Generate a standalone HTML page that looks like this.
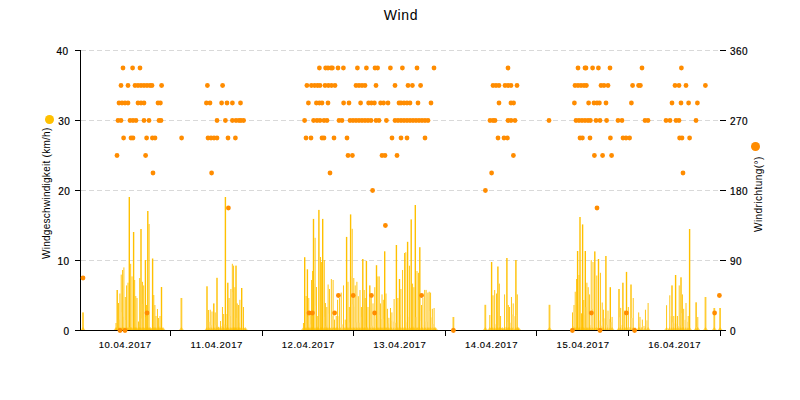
<!DOCTYPE html>
<html><head><meta charset="utf-8">
<style>
html,body{margin:0;padding:0;background:#fff;}
body{width:800px;height:400px;position:relative;overflow:hidden;font-family:"Liberation Sans",sans-serif;color:#000;}
.tl,.tr{-webkit-text-stroke:0.2px #000;}.dx{-webkit-text-stroke:0.12px #000;}
svg{position:absolute;left:0;top:0;}
.title{position:absolute;left:1px;width:800px;top:7px;text-align:center;font-size:14px;line-height:16px;letter-spacing:0.7px;}
.tl{position:absolute;left:0;width:69.5px;text-align:right;font-size:10px;line-height:12px;letter-spacing:0.5px;}
.tr{position:absolute;left:730px;font-size:10px;line-height:12px;letter-spacing:0.5px;}
.dx{position:absolute;top:338.6px;width:80px;text-align:center;font-size:9.5px;line-height:12px;letter-spacing:0.55px;}
.ytl{position:absolute;font-size:10px;line-height:12px;white-space:nowrap;transform-origin:0 0;transform:rotate(-90deg);letter-spacing:0.27px;}
.dot{position:absolute;border-radius:50%;}
</style></head><body>
<svg width="800" height="400" viewBox="0 0 800 400">
<line x1="81" y1="50.5" x2="718" y2="50.5" stroke="#d9d9d9" stroke-width="1" stroke-dasharray="5,3"/>
<line x1="81" y1="120.5" x2="718" y2="120.5" stroke="#d9d9d9" stroke-width="1" stroke-dasharray="5,3"/>
<line x1="81" y1="190.5" x2="718" y2="190.5" stroke="#d9d9d9" stroke-width="1" stroke-dasharray="5,3"/>
<line x1="81" y1="260.5" x2="718" y2="260.5" stroke="#d9d9d9" stroke-width="1" stroke-dasharray="5,3"/>
<rect x="82.10" y="312.4" width="1.8" height="17.6" fill="#FFC000" fill-opacity="0.8"/>
<path d="M80.60,330 L83.00,327 L85.40,330Z" fill="#FFC000" fill-opacity="0.6"/>
<rect x="115.55" y="323.0" width="0.9" height="7.0" fill="#FFC000" fill-opacity="1"/>
<path d="M113.60,330 L116.00,327 L118.40,330Z" fill="#FFC000" fill-opacity="0.6"/>
<rect x="116.45" y="328.6" width="0.30" height="1.4" fill="#FFE39A"/>
<rect x="116.50" y="290.0" width="1.4" height="40.0" fill="#FFC000" fill-opacity="1"/>
<path d="M114.80,330 L117.20,327 L119.60,330Z" fill="#FFC000" fill-opacity="0.6"/>
<rect x="117.65" y="327.6" width="0.40" height="2.4" fill="#FFE39A"/>
<rect x="118.05" y="303.0" width="0.9" height="27.0" fill="#FFC000" fill-opacity="1"/>
<path d="M116.10,330 L118.50,327 L120.90,330Z" fill="#FFC000" fill-opacity="0.6"/>
<rect x="118.95" y="319.5" width="0.50" height="10.5" fill="#FFE39A"/>
<rect x="119.45" y="293.5" width="0.9" height="36.5" fill="#FFC000" fill-opacity="1"/>
<path d="M117.50,330 L119.90,327 L122.30,330Z" fill="#FFC000" fill-opacity="0.6"/>
<rect x="120.35" y="328.4" width="0.40" height="1.6" fill="#FFE39A"/>
<rect x="120.75" y="274.6" width="0.9" height="55.4" fill="#FFC000" fill-opacity="1"/>
<path d="M118.80,330 L121.20,327 L123.60,330Z" fill="#FFC000" fill-opacity="0.6"/>
<rect x="121.65" y="312.2" width="0.50" height="17.8" fill="#FFE39A"/>
<rect x="122.15" y="270.0" width="0.9" height="60.0" fill="#FFC000" fill-opacity="1"/>
<path d="M120.20,330 L122.60,327 L125.00,330Z" fill="#FFC000" fill-opacity="0.6"/>
<rect x="123.05" y="316.8" width="0.40" height="13.2" fill="#FFE39A"/>
<rect x="123.45" y="267.4" width="0.9" height="62.6" fill="#FFC000" fill-opacity="1"/>
<path d="M121.50,330 L123.90,327 L126.30,330Z" fill="#FFC000" fill-opacity="0.6"/>
<rect x="124.35" y="328.9" width="0.50" height="1.1" fill="#FFE39A"/>
<rect x="124.85" y="297.0" width="0.9" height="33.0" fill="#FFC000" fill-opacity="1"/>
<path d="M122.90,330 L125.30,327 L127.70,330Z" fill="#FFC000" fill-opacity="0.6"/>
<rect x="125.75" y="320.0" width="0.40" height="10.0" fill="#FFE39A"/>
<rect x="126.15" y="285.4" width="0.9" height="44.6" fill="#FFC000" fill-opacity="1"/>
<path d="M124.20,330 L126.60,327 L129.00,330Z" fill="#FFC000" fill-opacity="0.6"/>
<rect x="127.05" y="329.0" width="0.50" height="1.0" fill="#FFE39A"/>
<rect x="127.55" y="282.7" width="0.9" height="47.3" fill="#FFC000" fill-opacity="1"/>
<path d="M125.60,330 L128.00,327 L130.40,330Z" fill="#FFC000" fill-opacity="0.6"/>
<rect x="128.45" y="317.7" width="0.40" height="12.3" fill="#FFE39A"/>
<rect x="128.60" y="197.0" width="1.4" height="133.0" fill="#FFC000" fill-opacity="1"/>
<path d="M126.90,330 L129.30,327 L131.70,330Z" fill="#FFC000" fill-opacity="0.6"/>
<rect x="129.75" y="327.2" width="0.50" height="2.8" fill="#FFE39A"/>
<rect x="130.25" y="263.8" width="0.9" height="66.2" fill="#FFC000" fill-opacity="1"/>
<path d="M128.30,330 L130.70,327 L133.10,330Z" fill="#FFC000" fill-opacity="0.6"/>
<rect x="131.15" y="327.1" width="0.40" height="2.9" fill="#FFE39A"/>
<rect x="131.55" y="276.4" width="0.9" height="53.6" fill="#FFC000" fill-opacity="1"/>
<path d="M129.60,330 L132.00,327 L134.40,330Z" fill="#FFC000" fill-opacity="0.6"/>
<rect x="132.45" y="316.3" width="0.70" height="13.7" fill="#FFE39A"/>
<rect x="132.90" y="232.0" width="1.4" height="98.0" fill="#FFC000" fill-opacity="1"/>
<path d="M131.20,330 L133.60,327 L136.00,330Z" fill="#FFC000" fill-opacity="0.6"/>
<rect x="134.05" y="305.2" width="0.20" height="24.8" fill="#FFE39A"/>
<rect x="134.25" y="280.0" width="0.9" height="50.0" fill="#FFC000" fill-opacity="1"/>
<path d="M132.30,330 L134.70,327 L137.10,330Z" fill="#FFC000" fill-opacity="0.6"/>
<rect x="135.15" y="327.5" width="0.20" height="2.5" fill="#FFE39A"/>
<rect x="135.35" y="296.0" width="0.9" height="34.0" fill="#FFC000" fill-opacity="1"/>
<path d="M133.40,330 L135.80,327 L138.20,330Z" fill="#FFC000" fill-opacity="0.6"/>
<rect x="136.25" y="325.7" width="0.30" height="4.3" fill="#FFE39A"/>
<rect x="136.55" y="298.0" width="0.9" height="32.0" fill="#FFC000" fill-opacity="1"/>
<path d="M134.60,330 L137.00,327 L139.40,330Z" fill="#FFC000" fill-opacity="0.6"/>
<rect x="137.45" y="326.8" width="0.60" height="3.2" fill="#FFE39A"/>
<rect x="138.05" y="321.5" width="0.9" height="8.5" fill="#FFC000" fill-opacity="1"/>
<path d="M136.10,330 L138.50,327 L140.90,330Z" fill="#FFC000" fill-opacity="0.6"/>
<rect x="138.95" y="325.2" width="0.30" height="4.8" fill="#FFE39A"/>
<rect x="139.25" y="278.0" width="0.9" height="52.0" fill="#FFC000" fill-opacity="1"/>
<path d="M137.30,330 L139.70,327 L142.10,330Z" fill="#FFC000" fill-opacity="0.6"/>
<rect x="140.15" y="312.0" width="0.40" height="18.0" fill="#FFE39A"/>
<rect x="140.30" y="229.0" width="1.4" height="101.0" fill="#FFC000" fill-opacity="1"/>
<path d="M138.60,330 L141.00,327 L143.40,330Z" fill="#FFC000" fill-opacity="0.6"/>
<rect x="141.45" y="318.5" width="0.50" height="11.5" fill="#FFE39A"/>
<rect x="141.95" y="281.8" width="0.9" height="48.2" fill="#FFC000" fill-opacity="1"/>
<path d="M140.00,330 L142.40,327 L144.80,330Z" fill="#FFC000" fill-opacity="0.6"/>
<rect x="142.85" y="303.9" width="0.40" height="26.1" fill="#FFE39A"/>
<rect x="143.25" y="285.4" width="0.9" height="44.6" fill="#FFC000" fill-opacity="1"/>
<path d="M141.30,330 L143.70,327 L146.10,330Z" fill="#FFC000" fill-opacity="0.6"/>
<rect x="144.15" y="328.8" width="0.80" height="1.2" fill="#FFE39A"/>
<rect x="144.70" y="260.0" width="1.4" height="70.0" fill="#FFC000" fill-opacity="1"/>
<path d="M143.00,330 L145.40,327 L147.80,330Z" fill="#FFC000" fill-opacity="0.6"/>
<rect x="145.85" y="317.1" width="0.30" height="12.9" fill="#FFE39A"/>
<rect x="146.15" y="305.0" width="0.9" height="25.0" fill="#FFC000" fill-opacity="1"/>
<path d="M144.20,330 L146.60,327 L149.00,330Z" fill="#FFC000" fill-opacity="0.6"/>
<rect x="147.05" y="325.7" width="0.30" height="4.3" fill="#FFE39A"/>
<rect x="147.10" y="211.0" width="1.4" height="119.0" fill="#FFC000" fill-opacity="1"/>
<path d="M145.40,330 L147.80,327 L150.20,330Z" fill="#FFC000" fill-opacity="0.6"/>
<rect x="148.25" y="320.8" width="0.40" height="9.2" fill="#FFE39A"/>
<rect x="148.65" y="224.0" width="0.9" height="106.0" fill="#FFC000" fill-opacity="1"/>
<path d="M146.70,330 L149.10,327 L151.50,330Z" fill="#FFC000" fill-opacity="0.6"/>
<rect x="149.55" y="329.9" width="0.50" height="0.1" fill="#FFE39A"/>
<rect x="150.05" y="328.7" width="0.9" height="1.3" fill="#FFC000" fill-opacity="1"/>
<path d="M148.10,330 L150.50,327 L152.90,330Z" fill="#FFC000" fill-opacity="0.6"/>
<rect x="150.95" y="329.8" width="1.20" height="0.2" fill="#FFE39A"/>
<rect x="151.90" y="258.5" width="1.4" height="71.5" fill="#FFC000" fill-opacity="1"/>
<path d="M150.20,330 L152.60,327 L155.00,330Z" fill="#FFC000" fill-opacity="0.6"/>
<rect x="153.05" y="312.9" width="0.30" height="17.1" fill="#FFE39A"/>
<rect x="153.35" y="295.0" width="0.9" height="35.0" fill="#FFC000" fill-opacity="1"/>
<path d="M151.40,330 L153.80,327 L156.20,330Z" fill="#FFC000" fill-opacity="0.6"/>
<rect x="154.25" y="327.3" width="0.20" height="2.7" fill="#FFE39A"/>
<rect x="154.45" y="305.0" width="0.9" height="25.0" fill="#FFC000" fill-opacity="1"/>
<path d="M152.50,330 L154.90,327 L157.30,330Z" fill="#FFC000" fill-opacity="0.6"/>
<rect x="155.35" y="325.1" width="0.20" height="4.9" fill="#FFE39A"/>
<rect x="155.55" y="316.0" width="0.9" height="14.0" fill="#FFC000" fill-opacity="1"/>
<path d="M153.60,330 L156.00,327 L158.40,330Z" fill="#FFC000" fill-opacity="0.6"/>
<rect x="156.45" y="324.6" width="0.50" height="5.4" fill="#FFE39A"/>
<rect x="156.95" y="309.0" width="0.9" height="21.0" fill="#FFC000" fill-opacity="1"/>
<path d="M155.00,330 L157.40,327 L159.80,330Z" fill="#FFC000" fill-opacity="0.6"/>
<rect x="157.85" y="327.3" width="0.30" height="2.7" fill="#FFE39A"/>
<rect x="158.15" y="318.0" width="0.9" height="12.0" fill="#FFC000" fill-opacity="1"/>
<path d="M156.20,330 L158.60,327 L161.00,330Z" fill="#FFC000" fill-opacity="0.6"/>
<rect x="159.05" y="326.1" width="0.50" height="3.9" fill="#FFE39A"/>
<rect x="159.55" y="316.0" width="0.9" height="14.0" fill="#FFC000" fill-opacity="1"/>
<path d="M157.60,330 L160.00,327 L162.40,330Z" fill="#FFC000" fill-opacity="0.6"/>
<rect x="160.45" y="329.5" width="0.60" height="0.5" fill="#FFE39A"/>
<rect x="160.80" y="287.0" width="1.4" height="43.0" fill="#FFC000" fill-opacity="1"/>
<path d="M159.10,330 L161.50,327 L163.90,330Z" fill="#FFC000" fill-opacity="0.6"/>
<rect x="161.95" y="330.0" width="0.60" height="0.0" fill="#FFE39A"/>
<rect x="162.55" y="328.7" width="0.9" height="1.3" fill="#FFC000" fill-opacity="1"/>
<path d="M160.60,330 L163.00,327 L165.40,330Z" fill="#FFC000" fill-opacity="0.6"/>
<rect x="180.50" y="298.0" width="1.8" height="32.0" fill="#FFC000" fill-opacity="0.8"/>
<path d="M179.00,330 L181.40,327 L183.80,330Z" fill="#FFC000" fill-opacity="0.6"/>
<rect x="206.30" y="286.3" width="1.4" height="43.7" fill="#FFC000" fill-opacity="1"/>
<path d="M204.60,330 L207.00,327 L209.40,330Z" fill="#FFC000" fill-opacity="0.6"/>
<rect x="207.45" y="327.5" width="0.50" height="2.5" fill="#FFE39A"/>
<rect x="207.95" y="310.0" width="0.9" height="20.0" fill="#FFC000" fill-opacity="1"/>
<path d="M206.00,330 L208.40,327 L210.80,330Z" fill="#FFC000" fill-opacity="0.6"/>
<rect x="208.85" y="321.8" width="0.90" height="8.2" fill="#FFE39A"/>
<rect x="209.75" y="309.7" width="0.9" height="20.3" fill="#FFC000" fill-opacity="1"/>
<path d="M207.80,330 L210.20,327 L212.60,330Z" fill="#FFC000" fill-opacity="0.6"/>
<rect x="210.65" y="325.3" width="0.90" height="4.7" fill="#FFE39A"/>
<rect x="211.55" y="311.5" width="0.9" height="18.5" fill="#FFC000" fill-opacity="1"/>
<path d="M209.60,330 L212.00,327 L214.40,330Z" fill="#FFC000" fill-opacity="0.6"/>
<rect x="212.45" y="326.5" width="0.90" height="3.5" fill="#FFE39A"/>
<rect x="213.10" y="303.4" width="1.4" height="26.6" fill="#FFC000" fill-opacity="1"/>
<path d="M211.40,330 L213.80,327 L216.20,330Z" fill="#FFC000" fill-opacity="0.6"/>
<rect x="214.25" y="323.8" width="0.50" height="6.2" fill="#FFE39A"/>
<rect x="214.75" y="312.4" width="0.9" height="17.6" fill="#FFC000" fill-opacity="1"/>
<path d="M212.80,330 L215.20,327 L217.60,330Z" fill="#FFC000" fill-opacity="0.6"/>
<rect x="215.65" y="325.2" width="0.90" height="4.8" fill="#FFE39A"/>
<rect x="216.30" y="277.8" width="1.4" height="52.2" fill="#FFC000" fill-opacity="1"/>
<path d="M214.60,330 L217.00,327 L219.40,330Z" fill="#FFC000" fill-opacity="0.6"/>
<rect x="217.45" y="329.4" width="0.90" height="0.6" fill="#FFE39A"/>
<rect x="218.35" y="326.8" width="0.9" height="3.2" fill="#FFC000" fill-opacity="1"/>
<path d="M216.40,330 L218.80,327 L221.20,330Z" fill="#FFC000" fill-opacity="0.6"/>
<rect x="219.25" y="328.5" width="0.90" height="1.5" fill="#FFE39A"/>
<rect x="220.15" y="321.0" width="0.9" height="9.0" fill="#FFC000" fill-opacity="1"/>
<path d="M218.20,330 L220.60,327 L223.00,330Z" fill="#FFC000" fill-opacity="0.6"/>
<rect x="221.05" y="326.2" width="0.90" height="3.8" fill="#FFE39A"/>
<rect x="221.95" y="307.0" width="0.9" height="23.0" fill="#FFC000" fill-opacity="1"/>
<path d="M220.00,330 L222.40,327 L224.80,330Z" fill="#FFC000" fill-opacity="0.6"/>
<rect x="222.85" y="327.7" width="0.40" height="2.3" fill="#FFE39A"/>
<rect x="223.25" y="314.0" width="0.9" height="16.0" fill="#FFC000" fill-opacity="1"/>
<path d="M221.30,330 L223.70,327 L226.10,330Z" fill="#FFC000" fill-opacity="0.6"/>
<rect x="224.15" y="324.5" width="0.80" height="5.5" fill="#FFE39A"/>
<rect x="224.70" y="197.0" width="1.4" height="133.0" fill="#FFC000" fill-opacity="1"/>
<path d="M223.00,330 L225.40,327 L227.80,330Z" fill="#FFC000" fill-opacity="0.6"/>
<rect x="225.85" y="325.0" width="0.70" height="5.0" fill="#FFE39A"/>
<rect x="226.55" y="314.0" width="0.9" height="16.0" fill="#FFC000" fill-opacity="1"/>
<path d="M224.60,330 L227.00,327 L229.40,330Z" fill="#FFC000" fill-opacity="0.6"/>
<rect x="227.10" y="282.7" width="1.4" height="47.3" fill="#FFC000" fill-opacity="1"/>
<path d="M225.40,330 L227.80,327 L230.20,330Z" fill="#FFC000" fill-opacity="0.6"/>
<rect x="228.25" y="313.2" width="0.40" height="16.8" fill="#FFE39A"/>
<rect x="228.65" y="298.0" width="0.9" height="32.0" fill="#FFC000" fill-opacity="1"/>
<path d="M226.70,330 L229.10,327 L231.50,330Z" fill="#FFC000" fill-opacity="0.6"/>
<rect x="229.55" y="316.0" width="0.90" height="14.0" fill="#FFE39A"/>
<rect x="230.45" y="289.0" width="0.9" height="41.0" fill="#FFC000" fill-opacity="1"/>
<path d="M228.50,330 L230.90,327 L233.30,330Z" fill="#FFC000" fill-opacity="0.6"/>
<rect x="231.35" y="322.9" width="0.50" height="7.1" fill="#FFE39A"/>
<rect x="231.85" y="263.8" width="0.9" height="66.2" fill="#FFC000" fill-opacity="1"/>
<path d="M229.90,330 L232.30,327 L234.70,330Z" fill="#FFC000" fill-opacity="0.6"/>
<rect x="232.75" y="292.1" width="0.40" height="37.9" fill="#FFE39A"/>
<rect x="233.15" y="265.6" width="0.9" height="64.4" fill="#FFC000" fill-opacity="1"/>
<path d="M231.20,330 L233.60,327 L236.00,330Z" fill="#FFC000" fill-opacity="0.6"/>
<rect x="234.05" y="327.0" width="0.40" height="3.0" fill="#FFE39A"/>
<rect x="234.45" y="287.2" width="0.9" height="42.8" fill="#FFC000" fill-opacity="1"/>
<path d="M232.50,330 L234.90,327 L237.30,330Z" fill="#FFC000" fill-opacity="0.6"/>
<rect x="235.35" y="319.3" width="0.20" height="10.7" fill="#FFE39A"/>
<rect x="235.30" y="265.6" width="1.4" height="64.4" fill="#FFC000" fill-opacity="1"/>
<path d="M233.60,330 L236.00,327 L238.40,330Z" fill="#FFC000" fill-opacity="0.6"/>
<rect x="236.45" y="317.9" width="0.30" height="12.1" fill="#FFE39A"/>
<rect x="236.75" y="303.4" width="0.9" height="26.6" fill="#FFC000" fill-opacity="1"/>
<path d="M234.80,330 L237.20,327 L239.60,330Z" fill="#FFC000" fill-opacity="0.6"/>
<rect x="237.65" y="327.7" width="0.50" height="2.3" fill="#FFE39A"/>
<rect x="238.15" y="305.0" width="0.9" height="25.0" fill="#FFC000" fill-opacity="1"/>
<path d="M236.20,330 L238.60,327 L241.00,330Z" fill="#FFC000" fill-opacity="0.6"/>
<rect x="239.05" y="322.7" width="0.40" height="7.3" fill="#FFE39A"/>
<rect x="239.45" y="299.8" width="0.9" height="30.2" fill="#FFC000" fill-opacity="1"/>
<path d="M237.50,330 L239.90,327 L242.30,330Z" fill="#FFC000" fill-opacity="0.6"/>
<rect x="240.35" y="329.3" width="0.90" height="0.7" fill="#FFE39A"/>
<rect x="241.00" y="288.0" width="1.4" height="42.0" fill="#FFC000" fill-opacity="1"/>
<path d="M239.30,330 L241.70,327 L244.10,330Z" fill="#FFC000" fill-opacity="0.6"/>
<rect x="242.15" y="320.8" width="0.90" height="9.2" fill="#FFE39A"/>
<rect x="243.05" y="307.0" width="0.9" height="23.0" fill="#FFC000" fill-opacity="1"/>
<path d="M241.10,330 L243.50,327 L245.90,330Z" fill="#FFC000" fill-opacity="0.6"/>
<rect x="243.95" y="329.4" width="0.90" height="0.6" fill="#FFE39A"/>
<rect x="244.85" y="328.6" width="0.9" height="1.4" fill="#FFC000" fill-opacity="1"/>
<path d="M242.90,330 L245.30,327 L247.70,330Z" fill="#FFC000" fill-opacity="0.6"/>
<rect x="302.95" y="323.0" width="0.9" height="7.0" fill="#FFC000" fill-opacity="1"/>
<path d="M301.00,330 L303.40,327 L305.80,330Z" fill="#FFC000" fill-opacity="0.6"/>
<rect x="303.85" y="327.6" width="0.40" height="2.4" fill="#FFE39A"/>
<rect x="304.00" y="257.2" width="1.4" height="72.8" fill="#FFC000" fill-opacity="1"/>
<path d="M302.30,330 L304.70,327 L307.10,330Z" fill="#FFC000" fill-opacity="0.6"/>
<rect x="305.15" y="312.1" width="0.50" height="17.9" fill="#FFE39A"/>
<rect x="305.65" y="296.0" width="0.9" height="34.0" fill="#FFC000" fill-opacity="1"/>
<path d="M303.70,330 L306.10,327 L308.50,330Z" fill="#FFC000" fill-opacity="0.6"/>
<rect x="306.55" y="323.6" width="0.40" height="6.4" fill="#FFE39A"/>
<rect x="306.70" y="269.3" width="1.4" height="60.7" fill="#FFC000" fill-opacity="1"/>
<path d="M305.00,330 L307.40,327 L309.80,330Z" fill="#FFC000" fill-opacity="0.6"/>
<rect x="307.85" y="316.7" width="0.50" height="13.3" fill="#FFE39A"/>
<rect x="308.35" y="298.0" width="0.9" height="32.0" fill="#FFC000" fill-opacity="1"/>
<path d="M306.40,330 L308.80,327 L311.20,330Z" fill="#FFC000" fill-opacity="0.6"/>
<rect x="309.25" y="324.3" width="0.50" height="5.7" fill="#FFE39A"/>
<rect x="309.75" y="314.0" width="0.9" height="16.0" fill="#FFC000" fill-opacity="1"/>
<path d="M307.80,330 L310.20,327 L312.60,330Z" fill="#FFC000" fill-opacity="0.6"/>
<rect x="310.65" y="324.4" width="0.40" height="5.6" fill="#FFE39A"/>
<rect x="311.05" y="280.0" width="0.9" height="50.0" fill="#FFC000" fill-opacity="1"/>
<path d="M309.10,330 L311.50,327 L313.90,330Z" fill="#FFC000" fill-opacity="0.6"/>
<rect x="311.95" y="316.3" width="0.20" height="13.7" fill="#FFE39A"/>
<rect x="312.15" y="271.0" width="0.9" height="59.0" fill="#FFC000" fill-opacity="1"/>
<path d="M310.20,330 L312.60,327 L315.00,330Z" fill="#FFC000" fill-opacity="0.6"/>
<rect x="312.80" y="218.9" width="1.4" height="111.1" fill="#FFC000" fill-opacity="1"/>
<path d="M311.10,330 L313.50,327 L315.90,330Z" fill="#FFC000" fill-opacity="0.6"/>
<rect x="313.95" y="283.5" width="0.70" height="46.5" fill="#FFE39A"/>
<rect x="314.65" y="237.8" width="0.9" height="92.2" fill="#FFC000" fill-opacity="1"/>
<path d="M312.70,330 L315.10,327 L317.50,330Z" fill="#FFC000" fill-opacity="0.6"/>
<rect x="315.55" y="305.6" width="0.50" height="24.4" fill="#FFE39A"/>
<rect x="316.05" y="287.0" width="0.9" height="43.0" fill="#FFC000" fill-opacity="1"/>
<path d="M314.10,330 L316.50,327 L318.90,330Z" fill="#FFC000" fill-opacity="0.6"/>
<rect x="316.95" y="326.0" width="0.40" height="4.0" fill="#FFE39A"/>
<rect x="317.35" y="316.0" width="0.9" height="14.0" fill="#FFC000" fill-opacity="1"/>
<path d="M315.40,330 L317.80,327 L320.20,330Z" fill="#FFC000" fill-opacity="0.6"/>
<rect x="318.25" y="324.4" width="0.20" height="5.6" fill="#FFE39A"/>
<rect x="318.20" y="209.9" width="1.4" height="120.1" fill="#FFC000" fill-opacity="1"/>
<path d="M316.50,330 L318.90,327 L321.30,330Z" fill="#FFC000" fill-opacity="0.6"/>
<rect x="319.35" y="327.3" width="0.70" height="2.7" fill="#FFE39A"/>
<rect x="320.05" y="257.0" width="0.9" height="73.0" fill="#FFC000" fill-opacity="1"/>
<path d="M318.10,330 L320.50,327 L322.90,330Z" fill="#FFC000" fill-opacity="0.6"/>
<rect x="320.95" y="301.4" width="0.20" height="28.6" fill="#FFE39A"/>
<rect x="321.15" y="262.0" width="0.9" height="68.0" fill="#FFC000" fill-opacity="1"/>
<path d="M319.20,330 L321.60,327 L324.00,330Z" fill="#FFC000" fill-opacity="0.6"/>
<rect x="322.05" y="303.6" width="0.20" height="26.4" fill="#FFE39A"/>
<rect x="322.00" y="218.9" width="1.4" height="111.1" fill="#FFC000" fill-opacity="1"/>
<path d="M320.30,330 L322.70,327 L325.10,330Z" fill="#FFC000" fill-opacity="0.6"/>
<rect x="323.15" y="288.3" width="0.70" height="41.7" fill="#FFE39A"/>
<rect x="323.85" y="260.0" width="0.9" height="70.0" fill="#FFC000" fill-opacity="1"/>
<path d="M321.90,330 L324.30,327 L326.70,330Z" fill="#FFC000" fill-opacity="0.6"/>
<rect x="324.75" y="316.7" width="0.20" height="13.3" fill="#FFE39A"/>
<rect x="324.95" y="303.0" width="0.9" height="27.0" fill="#FFC000" fill-opacity="1"/>
<path d="M323.00,330 L325.40,327 L327.80,330Z" fill="#FFC000" fill-opacity="0.6"/>
<rect x="325.85" y="326.1" width="0.50" height="3.9" fill="#FFE39A"/>
<rect x="326.35" y="307.0" width="0.9" height="23.0" fill="#FFC000" fill-opacity="1"/>
<path d="M324.40,330 L326.80,327 L329.20,330Z" fill="#FFC000" fill-opacity="0.6"/>
<rect x="327.25" y="324.7" width="0.40" height="5.3" fill="#FFE39A"/>
<rect x="327.65" y="284.5" width="0.9" height="45.5" fill="#FFC000" fill-opacity="1"/>
<path d="M325.70,330 L328.10,327 L330.50,330Z" fill="#FFC000" fill-opacity="0.6"/>
<rect x="328.55" y="313.6" width="0.50" height="16.4" fill="#FFE39A"/>
<rect x="329.05" y="289.0" width="0.9" height="41.0" fill="#FFC000" fill-opacity="1"/>
<path d="M327.10,330 L329.50,327 L331.90,330Z" fill="#FFC000" fill-opacity="0.6"/>
<rect x="329.95" y="329.4" width="0.90" height="0.6" fill="#FFE39A"/>
<rect x="330.85" y="279.0" width="0.9" height="51.0" fill="#FFC000" fill-opacity="1"/>
<path d="M328.90,330 L331.30,327 L333.70,330Z" fill="#FFC000" fill-opacity="0.6"/>
<rect x="331.75" y="316.1" width="0.90" height="13.9" fill="#FFE39A"/>
<rect x="332.65" y="280.0" width="0.9" height="50.0" fill="#FFC000" fill-opacity="1"/>
<path d="M330.70,330 L333.10,327 L335.50,330Z" fill="#FFC000" fill-opacity="0.6"/>
<rect x="333.55" y="329.0" width="0.50" height="1.0" fill="#FFE39A"/>
<rect x="334.05" y="319.6" width="0.9" height="10.4" fill="#FFC000" fill-opacity="1"/>
<path d="M332.10,330 L334.50,327 L336.90,330Z" fill="#FFC000" fill-opacity="0.6"/>
<rect x="334.95" y="329.3" width="0.80" height="0.7" fill="#FFE39A"/>
<rect x="335.75" y="316.0" width="0.9" height="14.0" fill="#FFC000" fill-opacity="1"/>
<path d="M333.80,330 L336.20,327 L338.60,330Z" fill="#FFC000" fill-opacity="0.6"/>
<rect x="336.65" y="329.5" width="0.50" height="0.5" fill="#FFE39A"/>
<rect x="337.15" y="299.8" width="0.9" height="30.2" fill="#FFC000" fill-opacity="1"/>
<path d="M335.20,330 L337.60,327 L340.00,330Z" fill="#FFC000" fill-opacity="0.6"/>
<rect x="338.05" y="316.1" width="0.90" height="13.9" fill="#FFE39A"/>
<rect x="338.95" y="298.0" width="0.9" height="32.0" fill="#FFC000" fill-opacity="1"/>
<path d="M337.00,330 L339.40,327 L341.80,330Z" fill="#FFC000" fill-opacity="0.6"/>
<rect x="339.85" y="327.5" width="0.90" height="2.5" fill="#FFE39A"/>
<rect x="340.75" y="292.6" width="0.9" height="37.4" fill="#FFC000" fill-opacity="1"/>
<path d="M338.80,330 L341.20,327 L343.60,330Z" fill="#FFC000" fill-opacity="0.6"/>
<rect x="341.65" y="324.4" width="1.40" height="5.6" fill="#FFE39A"/>
<rect x="343.05" y="285.4" width="0.9" height="44.6" fill="#FFC000" fill-opacity="1"/>
<path d="M341.10,330 L343.50,327 L345.90,330Z" fill="#FFC000" fill-opacity="0.6"/>
<rect x="343.95" y="327.6" width="0.80" height="2.4" fill="#FFE39A"/>
<rect x="344.75" y="319.6" width="0.9" height="10.4" fill="#FFC000" fill-opacity="1"/>
<path d="M342.80,330 L345.20,327 L347.60,330Z" fill="#FFC000" fill-opacity="0.6"/>
<rect x="345.65" y="324.6" width="0.50" height="5.4" fill="#FFE39A"/>
<rect x="345.90" y="236.9" width="1.4" height="93.1" fill="#FFC000" fill-opacity="1"/>
<path d="M344.20,330 L346.60,327 L349.00,330Z" fill="#FFC000" fill-opacity="0.6"/>
<rect x="347.05" y="327.7" width="0.50" height="2.3" fill="#FFE39A"/>
<rect x="347.55" y="281.8" width="0.9" height="48.2" fill="#FFC000" fill-opacity="1"/>
<path d="M345.60,330 L348.00,327 L350.40,330Z" fill="#FFC000" fill-opacity="0.6"/>
<rect x="348.45" y="323.8" width="0.40" height="6.2" fill="#FFE39A"/>
<rect x="348.85" y="307.0" width="0.9" height="23.0" fill="#FFC000" fill-opacity="1"/>
<path d="M346.90,330 L349.30,327 L351.70,330Z" fill="#FFC000" fill-opacity="0.6"/>
<rect x="349.75" y="322.4" width="0.40" height="7.6" fill="#FFE39A"/>
<rect x="349.90" y="214.4" width="1.4" height="115.6" fill="#FFC000" fill-opacity="1"/>
<path d="M348.20,330 L350.60,327 L353.00,330Z" fill="#FFC000" fill-opacity="0.6"/>
<rect x="351.05" y="276.4" width="0.70" height="53.6" fill="#FFE39A"/>
<rect x="351.75" y="228.8" width="0.9" height="101.2" fill="#FFC000" fill-opacity="1"/>
<path d="M349.80,330 L352.20,327 L354.60,330Z" fill="#FFC000" fill-opacity="0.6"/>
<rect x="352.65" y="304.4" width="0.70" height="25.6" fill="#FFE39A"/>
<rect x="353.35" y="278.0" width="0.9" height="52.0" fill="#FFC000" fill-opacity="1"/>
<path d="M351.40,330 L353.80,327 L356.20,330Z" fill="#FFC000" fill-opacity="0.6"/>
<rect x="354.25" y="306.9" width="0.50" height="23.1" fill="#FFE39A"/>
<rect x="354.75" y="285.4" width="0.9" height="44.6" fill="#FFC000" fill-opacity="1"/>
<path d="M352.80,330 L355.20,327 L357.60,330Z" fill="#FFC000" fill-opacity="0.6"/>
<rect x="355.65" y="322.5" width="0.80" height="7.5" fill="#FFE39A"/>
<rect x="356.45" y="281.8" width="0.9" height="48.2" fill="#FFC000" fill-opacity="1"/>
<path d="M354.50,330 L356.90,327 L359.30,330Z" fill="#FFC000" fill-opacity="0.6"/>
<rect x="357.35" y="321.6" width="0.50" height="8.4" fill="#FFE39A"/>
<rect x="357.85" y="296.2" width="0.9" height="33.8" fill="#FFC000" fill-opacity="1"/>
<path d="M355.90,330 L358.30,327 L360.70,330Z" fill="#FFC000" fill-opacity="0.6"/>
<rect x="358.75" y="322.7" width="0.80" height="7.3" fill="#FFE39A"/>
<rect x="359.55" y="290.0" width="0.9" height="40.0" fill="#FFC000" fill-opacity="1"/>
<path d="M357.60,330 L360.00,327 L362.40,330Z" fill="#FFC000" fill-opacity="0.6"/>
<rect x="360.45" y="317.8" width="0.50" height="12.2" fill="#FFE39A"/>
<rect x="360.95" y="307.0" width="0.9" height="23.0" fill="#FFC000" fill-opacity="1"/>
<path d="M359.00,330 L361.40,327 L363.80,330Z" fill="#FFC000" fill-opacity="0.6"/>
<rect x="361.85" y="316.8" width="0.50" height="13.2" fill="#FFE39A"/>
<rect x="362.10" y="259.0" width="1.4" height="71.0" fill="#FFC000" fill-opacity="1"/>
<path d="M360.40,330 L362.80,327 L365.20,330Z" fill="#FFC000" fill-opacity="0.6"/>
<rect x="363.25" y="326.4" width="0.50" height="3.6" fill="#FFE39A"/>
<rect x="363.75" y="290.0" width="0.9" height="40.0" fill="#FFC000" fill-opacity="1"/>
<path d="M361.80,330 L364.20,327 L366.60,330Z" fill="#FFC000" fill-opacity="0.6"/>
<rect x="364.65" y="326.6" width="0.10" height="3.4" fill="#FFE39A"/>
<rect x="364.75" y="298.0" width="0.9" height="32.0" fill="#FFC000" fill-opacity="1"/>
<path d="M362.80,330 L365.20,327 L367.60,330Z" fill="#FFC000" fill-opacity="0.6"/>
<rect x="365.65" y="325.5" width="0.30" height="4.5" fill="#FFE39A"/>
<rect x="365.70" y="260.8" width="1.4" height="69.2" fill="#FFC000" fill-opacity="1"/>
<path d="M364.00,330 L366.40,327 L368.80,330Z" fill="#FFC000" fill-opacity="0.6"/>
<rect x="366.85" y="326.8" width="0.70" height="3.2" fill="#FFE39A"/>
<rect x="367.55" y="307.0" width="0.9" height="23.0" fill="#FFC000" fill-opacity="1"/>
<path d="M365.60,330 L368.00,327 L370.40,330Z" fill="#FFC000" fill-opacity="0.6"/>
<rect x="368.45" y="323.3" width="0.90" height="6.7" fill="#FFE39A"/>
<rect x="369.10" y="285.4" width="1.4" height="44.6" fill="#FFC000" fill-opacity="1"/>
<path d="M367.40,330 L369.80,327 L372.20,330Z" fill="#FFC000" fill-opacity="0.6"/>
<rect x="370.25" y="318.7" width="0.50" height="11.3" fill="#FFE39A"/>
<rect x="370.75" y="298.0" width="0.9" height="32.0" fill="#FFC000" fill-opacity="1"/>
<path d="M368.80,330 L371.20,327 L373.60,330Z" fill="#FFC000" fill-opacity="0.6"/>
<rect x="371.65" y="325.8" width="0.90" height="4.2" fill="#FFE39A"/>
<rect x="372.55" y="303.4" width="0.9" height="26.6" fill="#FFC000" fill-opacity="1"/>
<path d="M370.60,330 L373.00,327 L375.40,330Z" fill="#FFC000" fill-opacity="0.6"/>
<rect x="373.45" y="329.9" width="0.90" height="0.1" fill="#FFE39A"/>
<rect x="374.35" y="287.2" width="0.9" height="42.8" fill="#FFC000" fill-opacity="1"/>
<path d="M372.40,330 L374.80,327 L377.20,330Z" fill="#FFC000" fill-opacity="0.6"/>
<rect x="375.25" y="319.2" width="0.80" height="10.8" fill="#FFE39A"/>
<rect x="375.80" y="265.2" width="1.4" height="64.8" fill="#FFC000" fill-opacity="1"/>
<path d="M374.10,330 L376.50,327 L378.90,330Z" fill="#FFC000" fill-opacity="0.6"/>
<rect x="376.95" y="318.1" width="0.50" height="11.9" fill="#FFE39A"/>
<rect x="377.45" y="276.4" width="0.9" height="53.6" fill="#FFC000" fill-opacity="1"/>
<path d="M375.50,330 L377.90,327 L380.30,330Z" fill="#FFC000" fill-opacity="0.6"/>
<rect x="378.35" y="311.8" width="0.40" height="18.2" fill="#FFE39A"/>
<rect x="378.75" y="276.4" width="0.9" height="53.6" fill="#FFC000" fill-opacity="1"/>
<path d="M376.80,330 L379.20,327 L381.60,330Z" fill="#FFC000" fill-opacity="0.6"/>
<rect x="379.65" y="314.8" width="0.50" height="15.2" fill="#FFE39A"/>
<rect x="380.15" y="303.4" width="0.9" height="26.6" fill="#FFC000" fill-opacity="1"/>
<path d="M378.20,330 L380.60,327 L383.00,330Z" fill="#FFC000" fill-opacity="0.6"/>
<rect x="381.05" y="319.0" width="0.50" height="11.0" fill="#FFE39A"/>
<rect x="381.55" y="294.4" width="0.9" height="35.6" fill="#FFC000" fill-opacity="1"/>
<path d="M379.60,330 L382.00,327 L384.40,330Z" fill="#FFC000" fill-opacity="0.6"/>
<rect x="382.45" y="320.7" width="0.40" height="9.3" fill="#FFE39A"/>
<rect x="382.85" y="299.8" width="0.9" height="30.2" fill="#FFC000" fill-opacity="1"/>
<path d="M380.90,330 L383.30,327 L385.70,330Z" fill="#FFC000" fill-opacity="0.6"/>
<rect x="383.75" y="318.8" width="0.50" height="11.2" fill="#FFE39A"/>
<rect x="384.00" y="251.3" width="1.4" height="78.7" fill="#FFC000" fill-opacity="1"/>
<path d="M382.30,330 L384.70,327 L387.10,330Z" fill="#FFC000" fill-opacity="0.6"/>
<rect x="385.15" y="315.2" width="0.40" height="14.8" fill="#FFE39A"/>
<rect x="385.55" y="293.5" width="0.9" height="36.5" fill="#FFC000" fill-opacity="1"/>
<path d="M383.60,330 L386.00,327 L388.40,330Z" fill="#FFC000" fill-opacity="0.6"/>
<rect x="386.45" y="329.3" width="0.50" height="0.7" fill="#FFE39A"/>
<rect x="386.95" y="308.8" width="0.9" height="21.2" fill="#FFC000" fill-opacity="1"/>
<path d="M385.00,330 L387.40,327 L389.80,330Z" fill="#FFC000" fill-opacity="0.6"/>
<rect x="387.85" y="323.4" width="0.60" height="6.6" fill="#FFE39A"/>
<rect x="388.45" y="317.8" width="0.9" height="12.2" fill="#FFC000" fill-opacity="1"/>
<path d="M386.50,330 L388.90,327 L391.30,330Z" fill="#FFC000" fill-opacity="0.6"/>
<rect x="389.35" y="324.3" width="0.70" height="5.7" fill="#FFE39A"/>
<rect x="390.05" y="308.0" width="0.9" height="22.0" fill="#FFC000" fill-opacity="1"/>
<path d="M388.10,330 L390.50,327 L392.90,330Z" fill="#FFC000" fill-opacity="0.6"/>
<rect x="390.95" y="320.8" width="0.50" height="9.2" fill="#FFE39A"/>
<rect x="391.45" y="312.4" width="0.9" height="17.6" fill="#FFC000" fill-opacity="1"/>
<path d="M389.50,330 L391.90,327 L394.30,330Z" fill="#FFC000" fill-opacity="0.6"/>
<rect x="392.35" y="321.6" width="1.30" height="8.4" fill="#FFE39A"/>
<rect x="393.65" y="299.0" width="0.9" height="31.0" fill="#FFC000" fill-opacity="1"/>
<path d="M391.70,330 L394.10,327 L396.50,330Z" fill="#FFC000" fill-opacity="0.6"/>
<rect x="394.55" y="322.7" width="1.40" height="7.3" fill="#FFE39A"/>
<rect x="395.70" y="245.0" width="1.4" height="85.0" fill="#FFC000" fill-opacity="1"/>
<path d="M394.00,330 L396.40,327 L398.80,330Z" fill="#FFC000" fill-opacity="0.6"/>
<rect x="396.85" y="322.3" width="0.60" height="7.7" fill="#FFE39A"/>
<rect x="397.45" y="298.0" width="0.9" height="32.0" fill="#FFC000" fill-opacity="1"/>
<path d="M395.50,330 L397.90,327 L400.30,330Z" fill="#FFC000" fill-opacity="0.6"/>
<rect x="398.35" y="328.0" width="0.70" height="2.0" fill="#FFE39A"/>
<rect x="398.80" y="279.0" width="1.4" height="51.0" fill="#FFC000" fill-opacity="1"/>
<path d="M397.10,330 L399.50,327 L401.90,330Z" fill="#FFC000" fill-opacity="0.6"/>
<rect x="399.95" y="314.4" width="0.50" height="15.6" fill="#FFE39A"/>
<rect x="400.45" y="289.0" width="0.9" height="41.0" fill="#FFC000" fill-opacity="1"/>
<path d="M398.50,330 L400.90,327 L403.30,330Z" fill="#FFC000" fill-opacity="0.6"/>
<rect x="401.35" y="328.5" width="0.80" height="1.5" fill="#FFE39A"/>
<rect x="402.15" y="270.0" width="0.9" height="60.0" fill="#FFC000" fill-opacity="1"/>
<path d="M400.20,330 L402.60,327 L405.00,330Z" fill="#FFC000" fill-opacity="0.6"/>
<rect x="403.05" y="327.6" width="1.00" height="2.4" fill="#FFE39A"/>
<rect x="404.05" y="253.0" width="0.9" height="77.0" fill="#FFC000" fill-opacity="1"/>
<path d="M402.10,330 L404.50,327 L406.90,330Z" fill="#FFC000" fill-opacity="0.6"/>
<rect x="404.95" y="320.4" width="0.40" height="9.6" fill="#FFE39A"/>
<rect x="405.35" y="252.2" width="0.9" height="77.8" fill="#FFC000" fill-opacity="1"/>
<path d="M403.40,330 L405.80,327 L408.20,330Z" fill="#FFC000" fill-opacity="0.6"/>
<rect x="406.25" y="322.4" width="0.90" height="7.6" fill="#FFE39A"/>
<rect x="406.90" y="241.8" width="1.4" height="88.2" fill="#FFC000" fill-opacity="1"/>
<path d="M405.20,330 L407.60,327 L410.00,330Z" fill="#FFC000" fill-opacity="0.6"/>
<rect x="408.05" y="316.9" width="0.90" height="13.1" fill="#FFE39A"/>
<rect x="408.95" y="265.7" width="0.9" height="64.3" fill="#FFC000" fill-opacity="1"/>
<path d="M407.00,330 L409.40,327 L411.80,330Z" fill="#FFC000" fill-opacity="0.6"/>
<rect x="409.85" y="328.0" width="0.90" height="2.0" fill="#FFE39A"/>
<rect x="410.50" y="219.4" width="1.4" height="110.6" fill="#FFC000" fill-opacity="1"/>
<path d="M408.80,330 L411.20,327 L413.60,330Z" fill="#FFC000" fill-opacity="0.6"/>
<rect x="411.65" y="330.0" width="0.50" height="0.0" fill="#FFE39A"/>
<rect x="412.15" y="283.6" width="0.9" height="46.4" fill="#FFC000" fill-opacity="1"/>
<path d="M410.20,330 L412.60,327 L415.00,330Z" fill="#FFC000" fill-opacity="0.6"/>
<rect x="413.05" y="326.1" width="0.40" height="3.9" fill="#FFE39A"/>
<rect x="413.45" y="287.2" width="0.9" height="42.8" fill="#FFC000" fill-opacity="1"/>
<path d="M411.50,330 L413.90,327 L416.30,330Z" fill="#FFC000" fill-opacity="0.6"/>
<rect x="414.35" y="327.4" width="0.50" height="2.6" fill="#FFE39A"/>
<rect x="414.60" y="205.0" width="1.4" height="125.0" fill="#FFC000" fill-opacity="1"/>
<path d="M412.90,330 L415.30,327 L417.70,330Z" fill="#FFC000" fill-opacity="0.6"/>
<rect x="415.75" y="317.1" width="0.80" height="12.9" fill="#FFE39A"/>
<rect x="416.55" y="271.0" width="0.9" height="59.0" fill="#FFC000" fill-opacity="1"/>
<path d="M414.60,330 L417.00,327 L419.40,330Z" fill="#FFC000" fill-opacity="0.6"/>
<rect x="417.45" y="329.1" width="0.50" height="0.9" fill="#FFE39A"/>
<rect x="417.95" y="272.8" width="0.9" height="57.2" fill="#FFC000" fill-opacity="1"/>
<path d="M416.00,330 L418.40,327 L420.80,330Z" fill="#FFC000" fill-opacity="0.6"/>
<rect x="418.85" y="300.0" width="0.50" height="30.0" fill="#FFE39A"/>
<rect x="419.10" y="247.2" width="1.4" height="82.8" fill="#FFC000" fill-opacity="1"/>
<path d="M417.40,330 L419.80,327 L422.20,330Z" fill="#FFC000" fill-opacity="0.6"/>
<rect x="420.25" y="320.8" width="0.80" height="9.2" fill="#FFE39A"/>
<rect x="421.05" y="305.0" width="0.9" height="25.0" fill="#FFC000" fill-opacity="1"/>
<path d="M419.10,330 L421.50,327 L423.90,330Z" fill="#FFC000" fill-opacity="0.6"/>
<rect x="421.95" y="327.8" width="0.50" height="2.2" fill="#FFE39A"/>
<rect x="422.45" y="298.0" width="0.9" height="32.0" fill="#FFC000" fill-opacity="1"/>
<path d="M420.50,330 L422.90,327 L425.30,330Z" fill="#FFC000" fill-opacity="0.6"/>
<rect x="423.35" y="325.2" width="0.90" height="4.8" fill="#FFE39A"/>
<rect x="424.25" y="289.9" width="0.9" height="40.1" fill="#FFC000" fill-opacity="1"/>
<path d="M422.30,330 L424.70,327 L427.10,330Z" fill="#FFC000" fill-opacity="0.6"/>
<rect x="425.15" y="321.6" width="0.50" height="8.4" fill="#FFE39A"/>
<rect x="425.65" y="289.9" width="0.9" height="40.1" fill="#FFC000" fill-opacity="1"/>
<path d="M423.70,330 L426.10,327 L428.50,330Z" fill="#FFC000" fill-opacity="0.6"/>
<rect x="426.55" y="321.8" width="0.90" height="8.2" fill="#FFE39A"/>
<rect x="427.45" y="292.6" width="0.9" height="37.4" fill="#FFC000" fill-opacity="1"/>
<path d="M425.50,330 L427.90,327 L430.30,330Z" fill="#FFC000" fill-opacity="0.6"/>
<rect x="428.35" y="327.2" width="0.40" height="2.8" fill="#FFE39A"/>
<rect x="428.75" y="291.7" width="0.9" height="38.3" fill="#FFC000" fill-opacity="1"/>
<path d="M426.80,330 L429.20,327 L431.60,330Z" fill="#FFC000" fill-opacity="0.6"/>
<rect x="429.65" y="310.9" width="0.50" height="19.1" fill="#FFE39A"/>
<rect x="430.15" y="292.6" width="0.9" height="37.4" fill="#FFC000" fill-opacity="1"/>
<path d="M428.20,330 L430.60,327 L433.00,330Z" fill="#FFC000" fill-opacity="0.6"/>
<rect x="431.05" y="317.4" width="0.80" height="12.6" fill="#FFE39A"/>
<rect x="431.85" y="308.8" width="0.9" height="21.2" fill="#FFC000" fill-opacity="1"/>
<path d="M429.90,330 L432.30,327 L434.70,330Z" fill="#FFC000" fill-opacity="0.6"/>
<rect x="432.75" y="324.1" width="0.90" height="5.9" fill="#FFE39A"/>
<rect x="433.65" y="308.0" width="0.9" height="22.0" fill="#FFC000" fill-opacity="1"/>
<path d="M431.70,330 L434.10,327 L436.50,330Z" fill="#FFC000" fill-opacity="0.6"/>
<rect x="434.55" y="329.6" width="0.50" height="0.4" fill="#FFE39A"/>
<rect x="435.05" y="328.6" width="0.9" height="1.4" fill="#FFC000" fill-opacity="1"/>
<path d="M433.10,330 L435.50,327 L437.90,330Z" fill="#FFC000" fill-opacity="0.6"/>
<rect x="452.50" y="317.0" width="1.8" height="13.0" fill="#FFC000" fill-opacity="0.8"/>
<path d="M451.00,330 L453.40,327 L455.80,330Z" fill="#FFC000" fill-opacity="0.6"/>
<rect x="484.40" y="304.8" width="1.8" height="25.2" fill="#FFC000" fill-opacity="0.8"/>
<path d="M482.90,330 L485.30,327 L487.70,330Z" fill="#FFC000" fill-opacity="0.6"/>
<rect x="489.35" y="315.0" width="0.9" height="15.0" fill="#FFC000" fill-opacity="1"/>
<path d="M487.40,330 L489.80,327 L492.20,330Z" fill="#FFC000" fill-opacity="0.6"/>
<rect x="490.25" y="329.2" width="0.90" height="0.8" fill="#FFE39A"/>
<rect x="490.90" y="262.0" width="1.4" height="68.0" fill="#FFC000" fill-opacity="1"/>
<path d="M489.20,330 L491.60,327 L494.00,330Z" fill="#FFC000" fill-opacity="0.6"/>
<rect x="492.05" y="327.9" width="0.50" height="2.1" fill="#FFE39A"/>
<rect x="492.55" y="295.3" width="0.9" height="34.7" fill="#FFC000" fill-opacity="1"/>
<path d="M490.60,330 L493.00,327 L495.40,330Z" fill="#FFC000" fill-opacity="0.6"/>
<rect x="493.45" y="322.9" width="0.80" height="7.1" fill="#FFE39A"/>
<rect x="494.25" y="290.0" width="0.9" height="40.0" fill="#FFC000" fill-opacity="1"/>
<path d="M492.30,330 L494.70,327 L497.10,330Z" fill="#FFC000" fill-opacity="0.6"/>
<rect x="495.15" y="324.2" width="0.90" height="5.8" fill="#FFE39A"/>
<rect x="496.05" y="293.5" width="0.9" height="36.5" fill="#FFC000" fill-opacity="1"/>
<path d="M494.10,330 L496.50,327 L498.90,330Z" fill="#FFC000" fill-opacity="0.6"/>
<rect x="496.95" y="311.8" width="0.50" height="18.2" fill="#FFE39A"/>
<rect x="497.20" y="266.5" width="1.4" height="63.5" fill="#FFC000" fill-opacity="1"/>
<path d="M495.50,330 L497.90,327 L500.30,330Z" fill="#FFC000" fill-opacity="0.6"/>
<rect x="498.35" y="325.5" width="0.50" height="4.5" fill="#FFE39A"/>
<rect x="498.85" y="283.6" width="0.9" height="46.4" fill="#FFC000" fill-opacity="1"/>
<path d="M496.90,330 L499.30,327 L501.70,330Z" fill="#FFC000" fill-opacity="0.6"/>
<rect x="499.75" y="329.8" width="0.40" height="0.2" fill="#FFE39A"/>
<rect x="500.15" y="316.0" width="0.9" height="14.0" fill="#FFC000" fill-opacity="1"/>
<path d="M498.20,330 L500.60,327 L503.00,330Z" fill="#FFC000" fill-opacity="0.6"/>
<rect x="501.05" y="329.2" width="0.90" height="0.8" fill="#FFE39A"/>
<rect x="501.95" y="328.6" width="0.9" height="1.4" fill="#FFC000" fill-opacity="1"/>
<path d="M500.00,330 L502.40,327 L504.80,330Z" fill="#FFC000" fill-opacity="0.6"/>
<rect x="502.85" y="329.6" width="1.30" height="0.4" fill="#FFE39A"/>
<rect x="504.15" y="294.4" width="0.9" height="35.6" fill="#FFC000" fill-opacity="1"/>
<path d="M502.20,330 L504.60,327 L507.00,330Z" fill="#FFC000" fill-opacity="0.6"/>
<rect x="505.05" y="326.9" width="1.40" height="3.1" fill="#FFE39A"/>
<rect x="506.20" y="258.0" width="1.4" height="72.0" fill="#FFC000" fill-opacity="1"/>
<path d="M504.50,330 L506.90,327 L509.30,330Z" fill="#FFC000" fill-opacity="0.6"/>
<rect x="507.35" y="321.9" width="0.50" height="8.1" fill="#FFE39A"/>
<rect x="507.85" y="305.0" width="0.9" height="25.0" fill="#FFC000" fill-opacity="1"/>
<path d="M505.90,330 L508.30,327 L510.70,330Z" fill="#FFC000" fill-opacity="0.6"/>
<rect x="508.75" y="329.6" width="0.40" height="0.4" fill="#FFE39A"/>
<rect x="509.15" y="307.0" width="0.9" height="23.0" fill="#FFC000" fill-opacity="1"/>
<path d="M507.20,330 L509.60,327 L512.00,330Z" fill="#FFC000" fill-opacity="0.6"/>
<rect x="510.05" y="322.7" width="0.90" height="7.3" fill="#FFE39A"/>
<rect x="510.95" y="297.0" width="0.9" height="33.0" fill="#FFC000" fill-opacity="1"/>
<path d="M509.00,330 L511.40,327 L513.80,330Z" fill="#FFC000" fill-opacity="0.6"/>
<rect x="511.85" y="314.4" width="0.90" height="15.6" fill="#FFE39A"/>
<rect x="512.75" y="303.4" width="0.9" height="26.6" fill="#FFC000" fill-opacity="1"/>
<path d="M510.80,330 L513.20,327 L515.60,330Z" fill="#FFC000" fill-opacity="0.6"/>
<rect x="513.65" y="316.2" width="1.80" height="13.8" fill="#FFE39A"/>
<rect x="515.20" y="260.0" width="1.4" height="70.0" fill="#FFC000" fill-opacity="1"/>
<path d="M513.50,330 L515.90,327 L518.30,330Z" fill="#FFC000" fill-opacity="0.6"/>
<rect x="516.35" y="315.1" width="0.50" height="14.9" fill="#FFE39A"/>
<rect x="516.85" y="294.4" width="0.9" height="35.6" fill="#FFC000" fill-opacity="1"/>
<path d="M514.90,330 L517.30,327 L519.70,330Z" fill="#FFC000" fill-opacity="0.6"/>
<rect x="517.75" y="329.8" width="0.40" height="0.2" fill="#FFE39A"/>
<rect x="518.15" y="328.6" width="0.9" height="1.4" fill="#FFC000" fill-opacity="1"/>
<path d="M516.20,330 L518.60,327 L521.00,330Z" fill="#FFC000" fill-opacity="0.6"/>
<rect x="548.60" y="304.8" width="1.8" height="25.2" fill="#FFC000" fill-opacity="0.8"/>
<path d="M547.10,330 L549.50,327 L551.90,330Z" fill="#FFC000" fill-opacity="0.6"/>
<rect x="572.05" y="312.4" width="0.9" height="17.6" fill="#FFC000" fill-opacity="1"/>
<path d="M570.10,330 L572.50,327 L574.90,330Z" fill="#FFC000" fill-opacity="0.6"/>
<rect x="572.95" y="326.1" width="0.60" height="3.9" fill="#FFE39A"/>
<rect x="573.55" y="305.0" width="0.9" height="25.0" fill="#FFC000" fill-opacity="1"/>
<path d="M571.60,330 L574.00,327 L576.40,330Z" fill="#FFC000" fill-opacity="0.6"/>
<rect x="574.45" y="327.5" width="0.30" height="2.5" fill="#FFE39A"/>
<rect x="574.75" y="291.7" width="0.9" height="38.3" fill="#FFC000" fill-opacity="1"/>
<path d="M572.80,330 L575.20,327 L577.60,330Z" fill="#FFC000" fill-opacity="0.6"/>
<rect x="575.65" y="312.3" width="0.50" height="17.7" fill="#FFE39A"/>
<rect x="576.15" y="279.0" width="0.9" height="51.0" fill="#FFC000" fill-opacity="1"/>
<path d="M574.20,330 L576.60,327 L579.00,330Z" fill="#FFC000" fill-opacity="0.6"/>
<rect x="577.05" y="313.7" width="0.10" height="16.3" fill="#FFE39A"/>
<rect x="576.90" y="251.0" width="1.4" height="79.0" fill="#FFC000" fill-opacity="1"/>
<path d="M575.20,330 L577.60,327 L580.00,330Z" fill="#FFC000" fill-opacity="0.6"/>
<rect x="578.05" y="304.3" width="0.50" height="25.7" fill="#FFE39A"/>
<rect x="578.55" y="275.0" width="0.9" height="55.0" fill="#FFC000" fill-opacity="1"/>
<path d="M576.60,330 L579.00,327 L581.40,330Z" fill="#FFC000" fill-opacity="0.6"/>
<rect x="579.45" y="319.1" width="0.10" height="10.9" fill="#FFE39A"/>
<rect x="579.30" y="217.0" width="1.4" height="113.0" fill="#FFC000" fill-opacity="1"/>
<path d="M577.60,330 L580.00,327 L582.40,330Z" fill="#FFC000" fill-opacity="0.6"/>
<rect x="580.45" y="327.8" width="0.60" height="2.2" fill="#FFE39A"/>
<rect x="581.05" y="313.3" width="0.9" height="16.7" fill="#FFC000" fill-opacity="1"/>
<path d="M579.10,330 L581.50,327 L583.90,330Z" fill="#FFC000" fill-opacity="0.6"/>
<rect x="581.95" y="321.9" width="0.20" height="8.1" fill="#FFE39A"/>
<rect x="581.90" y="224.4" width="1.4" height="105.6" fill="#FFC000" fill-opacity="1"/>
<path d="M580.20,330 L582.60,327 L585.00,330Z" fill="#FFC000" fill-opacity="0.6"/>
<rect x="583.05" y="312.3" width="0.30" height="17.7" fill="#FFE39A"/>
<rect x="583.35" y="300.0" width="0.9" height="30.0" fill="#FFC000" fill-opacity="1"/>
<path d="M581.40,330 L583.80,327 L586.20,330Z" fill="#FFC000" fill-opacity="0.6"/>
<rect x="584.25" y="314.7" width="0.60" height="15.3" fill="#FFE39A"/>
<rect x="584.60" y="251.0" width="1.4" height="79.0" fill="#FFC000" fill-opacity="1"/>
<path d="M582.90,330 L585.30,327 L587.70,330Z" fill="#FFC000" fill-opacity="0.6"/>
<rect x="585.75" y="307.1" width="0.70" height="22.9" fill="#FFE39A"/>
<rect x="586.45" y="282.7" width="0.9" height="47.3" fill="#FFC000" fill-opacity="1"/>
<path d="M584.50,330 L586.90,327 L589.30,330Z" fill="#FFC000" fill-opacity="0.6"/>
<rect x="587.35" y="309.0" width="0.40" height="21.0" fill="#FFE39A"/>
<rect x="587.75" y="287.2" width="0.9" height="42.8" fill="#FFC000" fill-opacity="1"/>
<path d="M585.80,330 L588.20,327 L590.60,330Z" fill="#FFC000" fill-opacity="0.6"/>
<rect x="588.65" y="314.2" width="0.50" height="15.8" fill="#FFE39A"/>
<rect x="589.15" y="294.4" width="0.9" height="35.6" fill="#FFC000" fill-opacity="1"/>
<path d="M587.20,330 L589.60,327 L592.00,330Z" fill="#FFC000" fill-opacity="0.6"/>
<rect x="590.05" y="325.2" width="0.70" height="4.8" fill="#FFE39A"/>
<rect x="590.75" y="260.0" width="0.9" height="70.0" fill="#FFC000" fill-opacity="1"/>
<path d="M588.80,330 L591.20,327 L593.60,330Z" fill="#FFC000" fill-opacity="0.6"/>
<rect x="591.65" y="308.9" width="0.90" height="21.1" fill="#FFE39A"/>
<rect x="592.55" y="262.0" width="0.9" height="68.0" fill="#FFC000" fill-opacity="1"/>
<path d="M590.60,330 L593.00,327 L595.40,330Z" fill="#FFC000" fill-opacity="0.6"/>
<rect x="593.45" y="315.5" width="0.90" height="14.5" fill="#FFE39A"/>
<rect x="594.10" y="251.4" width="1.4" height="78.6" fill="#FFC000" fill-opacity="1"/>
<path d="M592.40,330 L594.80,327 L597.20,330Z" fill="#FFC000" fill-opacity="0.6"/>
<rect x="595.25" y="329.1" width="1.10" height="0.9" fill="#FFE39A"/>
<rect x="596.35" y="275.5" width="0.9" height="54.5" fill="#FFC000" fill-opacity="1"/>
<path d="M594.40,330 L596.80,327 L599.20,330Z" fill="#FFC000" fill-opacity="0.6"/>
<rect x="597.25" y="329.1" width="0.80" height="0.9" fill="#FFE39A"/>
<rect x="597.80" y="259.0" width="1.4" height="71.0" fill="#FFC000" fill-opacity="1"/>
<path d="M596.10,330 L598.50,327 L600.90,330Z" fill="#FFC000" fill-opacity="0.6"/>
<rect x="598.95" y="320.4" width="1.00" height="9.6" fill="#FFE39A"/>
<rect x="599.95" y="272.8" width="0.9" height="57.2" fill="#FFC000" fill-opacity="1"/>
<path d="M598.00,330 L600.40,327 L602.80,330Z" fill="#FFC000" fill-opacity="0.6"/>
<rect x="600.85" y="325.7" width="0.90" height="4.3" fill="#FFE39A"/>
<rect x="601.75" y="302.5" width="0.9" height="27.5" fill="#FFC000" fill-opacity="1"/>
<path d="M599.80,330 L602.20,327 L604.60,330Z" fill="#FFC000" fill-opacity="0.6"/>
<rect x="602.65" y="321.6" width="0.50" height="8.4" fill="#FFE39A"/>
<rect x="603.15" y="309.7" width="0.9" height="20.3" fill="#FFC000" fill-opacity="1"/>
<path d="M601.20,330 L603.60,327 L606.00,330Z" fill="#FFC000" fill-opacity="0.6"/>
<rect x="604.05" y="318.3" width="1.40" height="11.7" fill="#FFE39A"/>
<rect x="605.20" y="256.0" width="1.4" height="74.0" fill="#FFC000" fill-opacity="1"/>
<path d="M603.50,330 L605.90,327 L608.30,330Z" fill="#FFC000" fill-opacity="0.6"/>
<rect x="606.35" y="324.8" width="1.20" height="5.2" fill="#FFE39A"/>
<rect x="607.55" y="310.6" width="0.9" height="19.4" fill="#FFC000" fill-opacity="1"/>
<path d="M605.60,330 L608.00,327 L610.40,330Z" fill="#FFC000" fill-opacity="0.6"/>
<rect x="608.45" y="319.1" width="1.40" height="10.9" fill="#FFE39A"/>
<rect x="609.60" y="287.2" width="1.4" height="42.8" fill="#FFC000" fill-opacity="1"/>
<path d="M607.90,330 L610.30,327 L612.70,330Z" fill="#FFC000" fill-opacity="0.6"/>
<rect x="610.75" y="322.2" width="0.90" height="7.8" fill="#FFE39A"/>
<rect x="611.65" y="316.9" width="0.9" height="13.1" fill="#FFC000" fill-opacity="1"/>
<path d="M609.70,330 L612.10,327 L614.50,330Z" fill="#FFC000" fill-opacity="0.6"/>
<rect x="618.30" y="289.0" width="1.4" height="41.0" fill="#FFC000" fill-opacity="1"/>
<path d="M616.60,330 L619.00,327 L621.40,330Z" fill="#FFC000" fill-opacity="0.6"/>
<rect x="619.45" y="317.3" width="0.80" height="12.7" fill="#FFE39A"/>
<rect x="620.25" y="307.9" width="0.9" height="22.1" fill="#FFC000" fill-opacity="1"/>
<path d="M618.30,330 L620.70,327 L623.10,330Z" fill="#FFC000" fill-opacity="0.6"/>
<rect x="621.15" y="325.2" width="1.30" height="4.8" fill="#FFE39A"/>
<rect x="622.20" y="282.7" width="1.4" height="47.3" fill="#FFC000" fill-opacity="1"/>
<path d="M620.50,330 L622.90,327 L625.30,330Z" fill="#FFC000" fill-opacity="0.6"/>
<rect x="623.35" y="327.4" width="0.90" height="2.6" fill="#FFE39A"/>
<rect x="624.25" y="310.6" width="0.9" height="19.4" fill="#FFC000" fill-opacity="1"/>
<path d="M622.30,330 L624.70,327 L627.10,330Z" fill="#FFC000" fill-opacity="0.6"/>
<rect x="625.15" y="327.4" width="0.90" height="2.6" fill="#FFE39A"/>
<rect x="625.80" y="271.9" width="1.4" height="58.1" fill="#FFC000" fill-opacity="1"/>
<path d="M624.10,330 L626.50,327 L628.90,330Z" fill="#FFC000" fill-opacity="0.6"/>
<rect x="626.95" y="327.3" width="0.90" height="2.7" fill="#FFE39A"/>
<rect x="627.85" y="307.0" width="0.9" height="23.0" fill="#FFC000" fill-opacity="1"/>
<path d="M625.90,330 L628.30,327 L630.70,330Z" fill="#FFC000" fill-opacity="0.6"/>
<rect x="628.75" y="327.2" width="1.80" height="2.8" fill="#FFE39A"/>
<rect x="630.30" y="284.5" width="1.4" height="45.5" fill="#FFC000" fill-opacity="1"/>
<path d="M628.60,330 L631.00,327 L633.40,330Z" fill="#FFC000" fill-opacity="0.6"/>
<rect x="631.45" y="318.0" width="1.30" height="12.0" fill="#FFE39A"/>
<rect x="632.75" y="298.0" width="0.9" height="32.0" fill="#FFC000" fill-opacity="1"/>
<path d="M630.80,330 L633.20,327 L635.60,330Z" fill="#FFC000" fill-opacity="0.6"/>
<rect x="633.65" y="329.2" width="0.90" height="0.8" fill="#FFE39A"/>
<rect x="634.55" y="328.6" width="0.9" height="1.4" fill="#FFC000" fill-opacity="1"/>
<path d="M632.60,330 L635.00,327 L637.40,330Z" fill="#FFC000" fill-opacity="0.6"/>
<rect x="638.25" y="312.4" width="0.9" height="17.6" fill="#FFC000" fill-opacity="1"/>
<path d="M636.30,330 L638.70,327 L641.10,330Z" fill="#FFC000" fill-opacity="0.6"/>
<rect x="639.15" y="323.4" width="0.40" height="6.6" fill="#FFE39A"/>
<rect x="639.55" y="316.9" width="0.9" height="13.1" fill="#FFC000" fill-opacity="1"/>
<path d="M637.60,330 L640.00,327 L642.40,330Z" fill="#FFC000" fill-opacity="0.6"/>
<rect x="640.45" y="327.0" width="1.40" height="3.0" fill="#FFE39A"/>
<rect x="641.85" y="319.6" width="0.9" height="10.4" fill="#FFC000" fill-opacity="1"/>
<path d="M639.90,330 L642.30,327 L644.70,330Z" fill="#FFC000" fill-opacity="0.6"/>
<rect x="642.75" y="325.9" width="2.20" height="4.1" fill="#FFE39A"/>
<rect x="644.95" y="309.7" width="0.9" height="20.3" fill="#FFC000" fill-opacity="1"/>
<path d="M643.00,330 L645.40,327 L647.80,330Z" fill="#FFC000" fill-opacity="0.6"/>
<rect x="645.85" y="320.3" width="1.80" height="9.7" fill="#FFE39A"/>
<rect x="647.65" y="303.0" width="0.9" height="27.0" fill="#FFC000" fill-opacity="1"/>
<path d="M645.70,330 L648.10,327 L650.50,330Z" fill="#FFC000" fill-opacity="0.6"/>
<rect x="666.15" y="305.2" width="0.9" height="24.8" fill="#FFC000" fill-opacity="1"/>
<path d="M664.20,330 L666.60,327 L669.00,330Z" fill="#FFC000" fill-opacity="0.6"/>
<rect x="667.05" y="328.7" width="2.30" height="1.3" fill="#FFE39A"/>
<rect x="669.35" y="295.3" width="0.9" height="34.7" fill="#FFC000" fill-opacity="1"/>
<path d="M667.40,330 L669.80,327 L672.20,330Z" fill="#FFC000" fill-opacity="0.6"/>
<rect x="670.25" y="316.2" width="1.30" height="13.8" fill="#FFE39A"/>
<rect x="671.30" y="285.4" width="1.4" height="44.6" fill="#FFC000" fill-opacity="1"/>
<path d="M669.60,330 L672.00,327 L674.40,330Z" fill="#FFC000" fill-opacity="0.6"/>
<rect x="672.45" y="322.4" width="0.90" height="7.6" fill="#FFE39A"/>
<rect x="673.35" y="316.0" width="0.9" height="14.0" fill="#FFC000" fill-opacity="1"/>
<path d="M671.40,330 L673.80,327 L676.20,330Z" fill="#FFC000" fill-opacity="0.6"/>
<rect x="674.25" y="323.4" width="0.90" height="6.6" fill="#FFE39A"/>
<rect x="674.90" y="275.0" width="1.4" height="55.0" fill="#FFC000" fill-opacity="1"/>
<path d="M673.20,330 L675.60,327 L678.00,330Z" fill="#FFC000" fill-opacity="0.6"/>
<rect x="676.05" y="323.7" width="0.90" height="6.3" fill="#FFE39A"/>
<rect x="676.95" y="316.0" width="0.9" height="14.0" fill="#FFC000" fill-opacity="1"/>
<path d="M675.00,330 L677.40,327 L679.80,330Z" fill="#FFC000" fill-opacity="0.6"/>
<rect x="677.85" y="326.0" width="0.90" height="4.0" fill="#FFE39A"/>
<rect x="678.75" y="285.4" width="0.9" height="44.6" fill="#FFC000" fill-opacity="1"/>
<path d="M676.80,330 L679.20,327 L681.60,330Z" fill="#FFC000" fill-opacity="0.6"/>
<rect x="679.65" y="325.2" width="0.90" height="4.8" fill="#FFE39A"/>
<rect x="680.30" y="277.3" width="1.4" height="52.7" fill="#FFC000" fill-opacity="1"/>
<path d="M678.60,330 L681.00,327 L683.40,330Z" fill="#FFC000" fill-opacity="0.6"/>
<rect x="681.45" y="313.1" width="0.50" height="16.9" fill="#FFE39A"/>
<rect x="681.95" y="294.4" width="0.9" height="35.6" fill="#FFC000" fill-opacity="1"/>
<path d="M680.00,330 L682.40,327 L684.80,330Z" fill="#FFC000" fill-opacity="0.6"/>
<rect x="682.85" y="325.8" width="0.40" height="4.2" fill="#FFE39A"/>
<rect x="683.25" y="308.8" width="0.9" height="21.2" fill="#FFC000" fill-opacity="1"/>
<path d="M681.30,330 L683.70,327 L686.10,330Z" fill="#FFC000" fill-opacity="0.6"/>
<rect x="684.15" y="319.8" width="1.40" height="10.2" fill="#FFE39A"/>
<rect x="685.55" y="303.0" width="0.9" height="27.0" fill="#FFC000" fill-opacity="1"/>
<path d="M683.60,330 L686.00,327 L688.40,330Z" fill="#FFC000" fill-opacity="0.6"/>
<rect x="686.45" y="321.8" width="1.30" height="8.2" fill="#FFE39A"/>
<rect x="687.75" y="316.0" width="0.9" height="14.0" fill="#FFC000" fill-opacity="1"/>
<path d="M685.80,330 L688.20,327 L690.60,330Z" fill="#FFC000" fill-opacity="0.6"/>
<rect x="688.65" y="326.7" width="0.50" height="3.3" fill="#FFE39A"/>
<rect x="688.90" y="229.0" width="1.4" height="101.0" fill="#FFC000" fill-opacity="1"/>
<path d="M687.20,330 L689.60,327 L692.00,330Z" fill="#FFC000" fill-opacity="0.6"/>
<rect x="695.40" y="302.3" width="1.4" height="27.7" fill="#FFC000" fill-opacity="1"/>
<path d="M693.70,330 L696.10,327 L698.50,330Z" fill="#FFC000" fill-opacity="0.6"/>
<rect x="696.55" y="326.9" width="0.80" height="3.1" fill="#FFE39A"/>
<rect x="697.35" y="317.0" width="0.9" height="13.0" fill="#FFC000" fill-opacity="1"/>
<path d="M695.40,330 L697.80,327 L700.20,330Z" fill="#FFC000" fill-opacity="0.6"/>
<rect x="704.60" y="297.0" width="1.8" height="33.0" fill="#FFC000" fill-opacity="0.8"/>
<path d="M703.10,330 L705.50,327 L707.90,330Z" fill="#FFC000" fill-opacity="0.6"/>
<rect x="713.40" y="308.0" width="1.8" height="22.0" fill="#FFC000" fill-opacity="0.8"/>
<path d="M711.90,330 L714.30,327 L716.70,330Z" fill="#FFC000" fill-opacity="0.6"/>
<rect x="719.20" y="308.0" width="1.8" height="22.0" fill="#FFC000" fill-opacity="0.8"/>
<path d="M717.70,330 L720.10,327 L722.50,330Z" fill="#FFC000" fill-opacity="0.6"/>
<line x1="80.5" y1="50" x2="80.5" y2="330" stroke="#000" stroke-width="1"/>
<line x1="75" y1="330.5" x2="726" y2="330.5" stroke="#000" stroke-width="1"/>
<line x1="75" y1="50.5" x2="80" y2="50.5" stroke="#000" stroke-width="1"/>
<line x1="75" y1="120.5" x2="80" y2="120.5" stroke="#000" stroke-width="1"/>
<line x1="75" y1="190.5" x2="80" y2="190.5" stroke="#000" stroke-width="1"/>
<line x1="75" y1="260.5" x2="80" y2="260.5" stroke="#000" stroke-width="1"/>
<line x1="720" y1="50.5" x2="726" y2="50.5" stroke="#000" stroke-width="1"/>
<line x1="720" y1="120.5" x2="726" y2="120.5" stroke="#000" stroke-width="1"/>
<line x1="720" y1="190.5" x2="726" y2="190.5" stroke="#000" stroke-width="1"/>
<line x1="720" y1="260.5" x2="726" y2="260.5" stroke="#000" stroke-width="1"/>
<line x1="720" y1="330.5" x2="726" y2="330.5" stroke="#000" stroke-width="1"/>
<line x1="170.5" y1="330" x2="170.5" y2="336" stroke="#000" stroke-width="1"/>
<line x1="262.5" y1="330" x2="262.5" y2="336" stroke="#000" stroke-width="1"/>
<line x1="353.5" y1="330" x2="353.5" y2="336" stroke="#000" stroke-width="1"/>
<line x1="445.5" y1="330" x2="445.5" y2="336" stroke="#000" stroke-width="1"/>
<line x1="536.5" y1="330" x2="536.5" y2="336" stroke="#000" stroke-width="1"/>
<line x1="628.5" y1="330" x2="628.5" y2="336" stroke="#000" stroke-width="1"/>
<line x1="720.5" y1="330" x2="720.5" y2="336" stroke="#000" stroke-width="1"/>
<circle cx="123" cy="68.0" r="2.4" fill="#FF8C00"/>
<circle cx="132.6" cy="68.0" r="2.4" fill="#FF8C00"/>
<circle cx="140" cy="68.0" r="2.4" fill="#FF8C00"/>
<circle cx="319.4" cy="68.0" r="2.4" fill="#FF8C00"/>
<circle cx="325.6" cy="68.0" r="2.4" fill="#FF8C00"/>
<circle cx="328" cy="68.0" r="2.4" fill="#FF8C00"/>
<circle cx="331" cy="68.0" r="2.4" fill="#FF8C00"/>
<circle cx="332.4" cy="68.0" r="2.4" fill="#FF8C00"/>
<circle cx="338" cy="68.0" r="2.4" fill="#FF8C00"/>
<circle cx="343.4" cy="68.0" r="2.4" fill="#FF8C00"/>
<circle cx="357.4" cy="68.0" r="2.4" fill="#FF8C00"/>
<circle cx="366.4" cy="68.0" r="2.4" fill="#FF8C00"/>
<circle cx="375" cy="68.0" r="2.4" fill="#FF8C00"/>
<circle cx="377.6" cy="68.0" r="2.4" fill="#FF8C00"/>
<circle cx="390.4" cy="68.0" r="2.4" fill="#FF8C00"/>
<circle cx="402.4" cy="68.0" r="2.4" fill="#FF8C00"/>
<circle cx="417" cy="68.0" r="2.4" fill="#FF8C00"/>
<circle cx="434" cy="68.0" r="2.4" fill="#FF8C00"/>
<circle cx="508" cy="68.0" r="2.4" fill="#FF8C00"/>
<circle cx="578" cy="68.0" r="2.4" fill="#FF8C00"/>
<circle cx="585" cy="68.0" r="2.4" fill="#FF8C00"/>
<circle cx="586" cy="68.0" r="2.4" fill="#FF8C00"/>
<circle cx="592.6" cy="68.0" r="2.4" fill="#FF8C00"/>
<circle cx="598.4" cy="68.0" r="2.4" fill="#FF8C00"/>
<circle cx="610" cy="68.0" r="2.4" fill="#FF8C00"/>
<circle cx="642" cy="68.0" r="2.4" fill="#FF8C00"/>
<circle cx="681.4" cy="68.0" r="2.4" fill="#FF8C00"/>
<circle cx="121" cy="85.5" r="2.4" fill="#FF8C00"/>
<circle cx="128" cy="85.5" r="2.4" fill="#FF8C00"/>
<circle cx="135" cy="85.5" r="2.4" fill="#FF8C00"/>
<circle cx="138" cy="85.5" r="2.4" fill="#FF8C00"/>
<circle cx="141" cy="85.5" r="2.4" fill="#FF8C00"/>
<circle cx="144" cy="85.5" r="2.4" fill="#FF8C00"/>
<circle cx="147" cy="85.5" r="2.4" fill="#FF8C00"/>
<circle cx="150" cy="85.5" r="2.4" fill="#FF8C00"/>
<circle cx="152" cy="85.5" r="2.4" fill="#FF8C00"/>
<circle cx="161.6" cy="85.5" r="2.4" fill="#FF8C00"/>
<circle cx="207.4" cy="85.5" r="2.4" fill="#FF8C00"/>
<circle cx="222.6" cy="85.5" r="2.4" fill="#FF8C00"/>
<circle cx="306.9" cy="85.5" r="2.4" fill="#FF8C00"/>
<circle cx="311.4" cy="85.5" r="2.4" fill="#FF8C00"/>
<circle cx="314.6" cy="85.5" r="2.4" fill="#FF8C00"/>
<circle cx="317.5" cy="85.5" r="2.4" fill="#FF8C00"/>
<circle cx="320" cy="85.5" r="2.4" fill="#FF8C00"/>
<circle cx="325" cy="85.5" r="2.4" fill="#FF8C00"/>
<circle cx="328.3" cy="85.5" r="2.4" fill="#FF8C00"/>
<circle cx="331.5" cy="85.5" r="2.4" fill="#FF8C00"/>
<circle cx="335" cy="85.5" r="2.4" fill="#FF8C00"/>
<circle cx="356" cy="85.5" r="2.4" fill="#FF8C00"/>
<circle cx="359" cy="85.5" r="2.4" fill="#FF8C00"/>
<circle cx="362" cy="85.5" r="2.4" fill="#FF8C00"/>
<circle cx="365" cy="85.5" r="2.4" fill="#FF8C00"/>
<circle cx="376" cy="85.5" r="2.4" fill="#FF8C00"/>
<circle cx="395" cy="85.5" r="2.4" fill="#FF8C00"/>
<circle cx="408" cy="85.5" r="2.4" fill="#FF8C00"/>
<circle cx="412.4" cy="85.5" r="2.4" fill="#FF8C00"/>
<circle cx="420.6" cy="85.5" r="2.4" fill="#FF8C00"/>
<circle cx="493" cy="85.5" r="2.4" fill="#FF8C00"/>
<circle cx="496" cy="85.5" r="2.4" fill="#FF8C00"/>
<circle cx="499" cy="85.5" r="2.4" fill="#FF8C00"/>
<circle cx="505" cy="85.5" r="2.4" fill="#FF8C00"/>
<circle cx="508" cy="85.5" r="2.4" fill="#FF8C00"/>
<circle cx="511" cy="85.5" r="2.4" fill="#FF8C00"/>
<circle cx="517" cy="85.5" r="2.4" fill="#FF8C00"/>
<circle cx="575" cy="85.5" r="2.4" fill="#FF8C00"/>
<circle cx="578" cy="85.5" r="2.4" fill="#FF8C00"/>
<circle cx="581" cy="85.5" r="2.4" fill="#FF8C00"/>
<circle cx="584" cy="85.5" r="2.4" fill="#FF8C00"/>
<circle cx="586.4" cy="85.5" r="2.4" fill="#FF8C00"/>
<circle cx="601" cy="85.5" r="2.4" fill="#FF8C00"/>
<circle cx="604" cy="85.5" r="2.4" fill="#FF8C00"/>
<circle cx="608" cy="85.5" r="2.4" fill="#FF8C00"/>
<circle cx="632.6" cy="85.5" r="2.4" fill="#FF8C00"/>
<circle cx="638.6" cy="85.5" r="2.4" fill="#FF8C00"/>
<circle cx="640.4" cy="85.5" r="2.4" fill="#FF8C00"/>
<circle cx="675" cy="85.5" r="2.4" fill="#FF8C00"/>
<circle cx="679" cy="85.5" r="2.4" fill="#FF8C00"/>
<circle cx="686" cy="85.5" r="2.4" fill="#FF8C00"/>
<circle cx="705.4" cy="85.5" r="2.4" fill="#FF8C00"/>
<circle cx="119" cy="103.0" r="2.4" fill="#FF8C00"/>
<circle cx="122" cy="103.0" r="2.4" fill="#FF8C00"/>
<circle cx="125" cy="103.0" r="2.4" fill="#FF8C00"/>
<circle cx="128" cy="103.0" r="2.4" fill="#FF8C00"/>
<circle cx="138" cy="103.0" r="2.4" fill="#FF8C00"/>
<circle cx="141" cy="103.0" r="2.4" fill="#FF8C00"/>
<circle cx="144" cy="103.0" r="2.4" fill="#FF8C00"/>
<circle cx="158" cy="103.0" r="2.4" fill="#FF8C00"/>
<circle cx="160.4" cy="103.0" r="2.4" fill="#FF8C00"/>
<circle cx="206.4" cy="103.0" r="2.4" fill="#FF8C00"/>
<circle cx="210" cy="103.0" r="2.4" fill="#FF8C00"/>
<circle cx="221.6" cy="103.0" r="2.4" fill="#FF8C00"/>
<circle cx="227" cy="103.0" r="2.4" fill="#FF8C00"/>
<circle cx="232.4" cy="103.0" r="2.4" fill="#FF8C00"/>
<circle cx="240.5" cy="103.0" r="2.4" fill="#FF8C00"/>
<circle cx="308.4" cy="103.0" r="2.4" fill="#FF8C00"/>
<circle cx="316.4" cy="103.0" r="2.4" fill="#FF8C00"/>
<circle cx="319.4" cy="103.0" r="2.4" fill="#FF8C00"/>
<circle cx="322" cy="103.0" r="2.4" fill="#FF8C00"/>
<circle cx="328" cy="103.0" r="2.4" fill="#FF8C00"/>
<circle cx="343.6" cy="103.0" r="2.4" fill="#FF8C00"/>
<circle cx="349" cy="103.0" r="2.4" fill="#FF8C00"/>
<circle cx="360.6" cy="103.0" r="2.4" fill="#FF8C00"/>
<circle cx="368.6" cy="103.0" r="2.4" fill="#FF8C00"/>
<circle cx="371.4" cy="103.0" r="2.4" fill="#FF8C00"/>
<circle cx="374.4" cy="103.0" r="2.4" fill="#FF8C00"/>
<circle cx="380.6" cy="103.0" r="2.4" fill="#FF8C00"/>
<circle cx="383.6" cy="103.0" r="2.4" fill="#FF8C00"/>
<circle cx="388" cy="103.0" r="2.4" fill="#FF8C00"/>
<circle cx="399" cy="103.0" r="2.4" fill="#FF8C00"/>
<circle cx="401" cy="103.0" r="2.4" fill="#FF8C00"/>
<circle cx="404" cy="103.0" r="2.4" fill="#FF8C00"/>
<circle cx="407" cy="103.0" r="2.4" fill="#FF8C00"/>
<circle cx="410" cy="103.0" r="2.4" fill="#FF8C00"/>
<circle cx="418" cy="103.0" r="2.4" fill="#FF8C00"/>
<circle cx="431" cy="103.0" r="2.4" fill="#FF8C00"/>
<circle cx="499" cy="103.0" r="2.4" fill="#FF8C00"/>
<circle cx="511" cy="103.0" r="2.4" fill="#FF8C00"/>
<circle cx="513.6" cy="103.0" r="2.4" fill="#FF8C00"/>
<circle cx="574.4" cy="103.0" r="2.4" fill="#FF8C00"/>
<circle cx="588.6" cy="103.0" r="2.4" fill="#FF8C00"/>
<circle cx="594" cy="103.0" r="2.4" fill="#FF8C00"/>
<circle cx="597" cy="103.0" r="2.4" fill="#FF8C00"/>
<circle cx="599.4" cy="103.0" r="2.4" fill="#FF8C00"/>
<circle cx="606" cy="103.0" r="2.4" fill="#FF8C00"/>
<circle cx="631.4" cy="103.0" r="2.4" fill="#FF8C00"/>
<circle cx="672" cy="103.0" r="2.4" fill="#FF8C00"/>
<circle cx="681" cy="103.0" r="2.4" fill="#FF8C00"/>
<circle cx="688.6" cy="103.0" r="2.4" fill="#FF8C00"/>
<circle cx="697.4" cy="103.0" r="2.4" fill="#FF8C00"/>
<circle cx="118" cy="120.5" r="2.4" fill="#FF8C00"/>
<circle cx="121" cy="120.5" r="2.4" fill="#FF8C00"/>
<circle cx="130" cy="120.5" r="2.4" fill="#FF8C00"/>
<circle cx="133" cy="120.5" r="2.4" fill="#FF8C00"/>
<circle cx="136" cy="120.5" r="2.4" fill="#FF8C00"/>
<circle cx="144" cy="120.5" r="2.4" fill="#FF8C00"/>
<circle cx="149" cy="120.5" r="2.4" fill="#FF8C00"/>
<circle cx="159" cy="120.5" r="2.4" fill="#FF8C00"/>
<circle cx="161" cy="120.5" r="2.4" fill="#FF8C00"/>
<circle cx="217" cy="120.5" r="2.4" fill="#FF8C00"/>
<circle cx="225.4" cy="120.5" r="2.4" fill="#FF8C00"/>
<circle cx="232.4" cy="120.5" r="2.4" fill="#FF8C00"/>
<circle cx="236" cy="120.5" r="2.4" fill="#FF8C00"/>
<circle cx="239" cy="120.5" r="2.4" fill="#FF8C00"/>
<circle cx="241" cy="120.5" r="2.4" fill="#FF8C00"/>
<circle cx="243.6" cy="120.5" r="2.4" fill="#FF8C00"/>
<circle cx="304.6" cy="120.5" r="2.4" fill="#FF8C00"/>
<circle cx="313.6" cy="120.5" r="2.4" fill="#FF8C00"/>
<circle cx="317" cy="120.5" r="2.4" fill="#FF8C00"/>
<circle cx="320" cy="120.5" r="2.4" fill="#FF8C00"/>
<circle cx="324" cy="120.5" r="2.4" fill="#FF8C00"/>
<circle cx="327" cy="120.5" r="2.4" fill="#FF8C00"/>
<circle cx="339" cy="120.5" r="2.4" fill="#FF8C00"/>
<circle cx="342" cy="120.5" r="2.4" fill="#FF8C00"/>
<circle cx="350" cy="120.5" r="2.4" fill="#FF8C00"/>
<circle cx="353" cy="120.5" r="2.4" fill="#FF8C00"/>
<circle cx="356" cy="120.5" r="2.4" fill="#FF8C00"/>
<circle cx="359" cy="120.5" r="2.4" fill="#FF8C00"/>
<circle cx="362" cy="120.5" r="2.4" fill="#FF8C00"/>
<circle cx="365" cy="120.5" r="2.4" fill="#FF8C00"/>
<circle cx="368" cy="120.5" r="2.4" fill="#FF8C00"/>
<circle cx="371" cy="120.5" r="2.4" fill="#FF8C00"/>
<circle cx="376" cy="120.5" r="2.4" fill="#FF8C00"/>
<circle cx="379" cy="120.5" r="2.4" fill="#FF8C00"/>
<circle cx="386.4" cy="120.5" r="2.4" fill="#FF8C00"/>
<circle cx="395" cy="120.5" r="2.4" fill="#FF8C00"/>
<circle cx="398" cy="120.5" r="2.4" fill="#FF8C00"/>
<circle cx="401" cy="120.5" r="2.4" fill="#FF8C00"/>
<circle cx="404" cy="120.5" r="2.4" fill="#FF8C00"/>
<circle cx="407" cy="120.5" r="2.4" fill="#FF8C00"/>
<circle cx="410" cy="120.5" r="2.4" fill="#FF8C00"/>
<circle cx="413" cy="120.5" r="2.4" fill="#FF8C00"/>
<circle cx="416" cy="120.5" r="2.4" fill="#FF8C00"/>
<circle cx="419" cy="120.5" r="2.4" fill="#FF8C00"/>
<circle cx="422" cy="120.5" r="2.4" fill="#FF8C00"/>
<circle cx="425" cy="120.5" r="2.4" fill="#FF8C00"/>
<circle cx="428" cy="120.5" r="2.4" fill="#FF8C00"/>
<circle cx="490" cy="120.5" r="2.4" fill="#FF8C00"/>
<circle cx="493" cy="120.5" r="2.4" fill="#FF8C00"/>
<circle cx="495" cy="120.5" r="2.4" fill="#FF8C00"/>
<circle cx="508" cy="120.5" r="2.4" fill="#FF8C00"/>
<circle cx="511" cy="120.5" r="2.4" fill="#FF8C00"/>
<circle cx="515" cy="120.5" r="2.4" fill="#FF8C00"/>
<circle cx="549" cy="120.5" r="2.4" fill="#FF8C00"/>
<circle cx="576" cy="120.5" r="2.4" fill="#FF8C00"/>
<circle cx="579" cy="120.5" r="2.4" fill="#FF8C00"/>
<circle cx="582" cy="120.5" r="2.4" fill="#FF8C00"/>
<circle cx="585" cy="120.5" r="2.4" fill="#FF8C00"/>
<circle cx="588" cy="120.5" r="2.4" fill="#FF8C00"/>
<circle cx="590.4" cy="120.5" r="2.4" fill="#FF8C00"/>
<circle cx="596" cy="120.5" r="2.4" fill="#FF8C00"/>
<circle cx="600" cy="120.5" r="2.4" fill="#FF8C00"/>
<circle cx="606.6" cy="120.5" r="2.4" fill="#FF8C00"/>
<circle cx="618" cy="120.5" r="2.4" fill="#FF8C00"/>
<circle cx="622" cy="120.5" r="2.4" fill="#FF8C00"/>
<circle cx="645" cy="120.5" r="2.4" fill="#FF8C00"/>
<circle cx="648" cy="120.5" r="2.4" fill="#FF8C00"/>
<circle cx="666" cy="120.5" r="2.4" fill="#FF8C00"/>
<circle cx="670" cy="120.5" r="2.4" fill="#FF8C00"/>
<circle cx="676" cy="120.5" r="2.4" fill="#FF8C00"/>
<circle cx="679" cy="120.5" r="2.4" fill="#FF8C00"/>
<circle cx="696" cy="120.5" r="2.4" fill="#FF8C00"/>
<circle cx="123.6" cy="138.0" r="2.4" fill="#FF8C00"/>
<circle cx="131" cy="138.0" r="2.4" fill="#FF8C00"/>
<circle cx="133" cy="138.0" r="2.4" fill="#FF8C00"/>
<circle cx="146.6" cy="138.0" r="2.4" fill="#FF8C00"/>
<circle cx="152.4" cy="138.0" r="2.4" fill="#FF8C00"/>
<circle cx="155" cy="138.0" r="2.4" fill="#FF8C00"/>
<circle cx="181.6" cy="138.0" r="2.4" fill="#FF8C00"/>
<circle cx="208" cy="138.0" r="2.4" fill="#FF8C00"/>
<circle cx="211" cy="138.0" r="2.4" fill="#FF8C00"/>
<circle cx="214" cy="138.0" r="2.4" fill="#FF8C00"/>
<circle cx="217" cy="138.0" r="2.4" fill="#FF8C00"/>
<circle cx="228" cy="138.0" r="2.4" fill="#FF8C00"/>
<circle cx="235.4" cy="138.0" r="2.4" fill="#FF8C00"/>
<circle cx="306" cy="138.0" r="2.4" fill="#FF8C00"/>
<circle cx="311" cy="138.0" r="2.4" fill="#FF8C00"/>
<circle cx="322" cy="138.0" r="2.4" fill="#FF8C00"/>
<circle cx="324" cy="138.0" r="2.4" fill="#FF8C00"/>
<circle cx="334" cy="138.0" r="2.4" fill="#FF8C00"/>
<circle cx="347" cy="138.0" r="2.4" fill="#FF8C00"/>
<circle cx="392" cy="138.0" r="2.4" fill="#FF8C00"/>
<circle cx="401" cy="138.0" r="2.4" fill="#FF8C00"/>
<circle cx="407" cy="138.0" r="2.4" fill="#FF8C00"/>
<circle cx="425" cy="138.0" r="2.4" fill="#FF8C00"/>
<circle cx="498" cy="138.0" r="2.4" fill="#FF8C00"/>
<circle cx="504" cy="138.0" r="2.4" fill="#FF8C00"/>
<circle cx="507.4" cy="138.0" r="2.4" fill="#FF8C00"/>
<circle cx="580" cy="138.0" r="2.4" fill="#FF8C00"/>
<circle cx="582.4" cy="138.0" r="2.4" fill="#FF8C00"/>
<circle cx="590" cy="138.0" r="2.4" fill="#FF8C00"/>
<circle cx="610.4" cy="138.0" r="2.4" fill="#FF8C00"/>
<circle cx="623" cy="138.0" r="2.4" fill="#FF8C00"/>
<circle cx="626" cy="138.0" r="2.4" fill="#FF8C00"/>
<circle cx="629.6" cy="138.0" r="2.4" fill="#FF8C00"/>
<circle cx="679.6" cy="138.0" r="2.4" fill="#FF8C00"/>
<circle cx="682" cy="138.0" r="2.4" fill="#FF8C00"/>
<circle cx="689.6" cy="138.0" r="2.4" fill="#FF8C00"/>
<circle cx="117" cy="155.5" r="2.4" fill="#FF8C00"/>
<circle cx="145.6" cy="155.5" r="2.4" fill="#FF8C00"/>
<circle cx="348" cy="155.5" r="2.4" fill="#FF8C00"/>
<circle cx="352.4" cy="155.5" r="2.4" fill="#FF8C00"/>
<circle cx="382" cy="155.5" r="2.4" fill="#FF8C00"/>
<circle cx="385" cy="155.5" r="2.4" fill="#FF8C00"/>
<circle cx="397" cy="155.5" r="2.4" fill="#FF8C00"/>
<circle cx="513.4" cy="155.5" r="2.4" fill="#FF8C00"/>
<circle cx="594.4" cy="155.5" r="2.4" fill="#FF8C00"/>
<circle cx="602.6" cy="155.5" r="2.4" fill="#FF8C00"/>
<circle cx="611.6" cy="155.5" r="2.4" fill="#FF8C00"/>
<circle cx="153" cy="173.0" r="2.4" fill="#FF8C00"/>
<circle cx="211.6" cy="173.0" r="2.4" fill="#FF8C00"/>
<circle cx="330" cy="173.0" r="2.4" fill="#FF8C00"/>
<circle cx="491.6" cy="173.0" r="2.4" fill="#FF8C00"/>
<circle cx="683" cy="173.0" r="2.4" fill="#FF8C00"/>
<circle cx="372.6" cy="190.5" r="2.4" fill="#FF8C00"/>
<circle cx="485.4" cy="190.5" r="2.4" fill="#FF8C00"/>
<circle cx="228.4" cy="208.0" r="2.4" fill="#FF8C00"/>
<circle cx="597" cy="208.0" r="2.4" fill="#FF8C00"/>
<circle cx="385.4" cy="225.5" r="2.4" fill="#FF8C00"/>
<circle cx="83" cy="278.0" r="2.4" fill="#FF8C00"/>
<circle cx="338.4" cy="295.5" r="2.4" fill="#FF8C00"/>
<circle cx="353.2" cy="295.5" r="2.4" fill="#FF8C00"/>
<circle cx="371.4" cy="295.5" r="2.4" fill="#FF8C00"/>
<circle cx="421.6" cy="295.5" r="2.4" fill="#FF8C00"/>
<circle cx="719.4" cy="295.5" r="2.4" fill="#FF8C00"/>
<circle cx="147" cy="313.0" r="2.4" fill="#FF8C00"/>
<circle cx="309" cy="313.0" r="2.4" fill="#FF8C00"/>
<circle cx="312.4" cy="313.0" r="2.4" fill="#FF8C00"/>
<circle cx="334.6" cy="313.0" r="2.4" fill="#FF8C00"/>
<circle cx="374.6" cy="313.0" r="2.4" fill="#FF8C00"/>
<circle cx="591.4" cy="313.0" r="2.4" fill="#FF8C00"/>
<circle cx="626.4" cy="313.0" r="2.4" fill="#FF8C00"/>
<circle cx="714.6" cy="313.0" r="2.4" fill="#FF8C00"/>
<circle cx="120" cy="330.5" r="2.4" fill="#FF8C00"/>
<circle cx="125" cy="330.5" r="2.4" fill="#FF8C00"/>
<circle cx="453.4" cy="330.5" r="2.4" fill="#FF8C00"/>
<circle cx="572.4" cy="330.5" r="2.4" fill="#FF8C00"/>
<circle cx="600" cy="330.5" r="2.4" fill="#FF8C00"/>
<circle cx="634.6" cy="330.5" r="2.4" fill="#FF8C00"/>
</svg>
<div class="title">Wind</div>
<div class="tl" style="top:45.5px;left:-1px">40</div><div class="tl" style="top:115.5px;left:0.8px">30</div><div class="tl" style="top:185.5px;left:0.8px">20</div><div class="tl" style="top:255.5px;left:0px">10</div><div class="tl" style="top:325.5px;left:0px">0</div><div class="tr" style="top:45.5px">360</div><div class="tr" style="top:115.5px">270</div><div class="tr" style="top:185.5px">180</div><div class="tr" style="top:255.5px">90</div><div class="tr" style="top:325.5px">0</div><div class="dx" style="left:85.2px">10.04.2017</div><div class="dx" style="left:176.7px">11.04.2017</div><div class="dx" style="left:268.3px">12.04.2017</div><div class="dx" style="left:359.9px">13.04.2017</div><div class="dx" style="left:451.5px">14.04.2017</div><div class="dx" style="left:543.1px">15.04.2017</div><div class="dx" style="left:634.7px">16.04.2017</div>
<div class="dot" style="left:45.2px;top:114.8px;width:8.8px;height:8.8px;background:#FFC000"></div>
<div class="ytl" style="left:41px;top:259px;">Windgeschwindigkeit (km/h)</div>
<div class="dot" style="left:751.2px;top:142px;width:8.8px;height:8.8px;background:#FF8C00"></div>
<div class="ytl" style="left:753px;top:231.5px;letter-spacing:0.45px;">Windrichtung(°)</div>
</body></html>
